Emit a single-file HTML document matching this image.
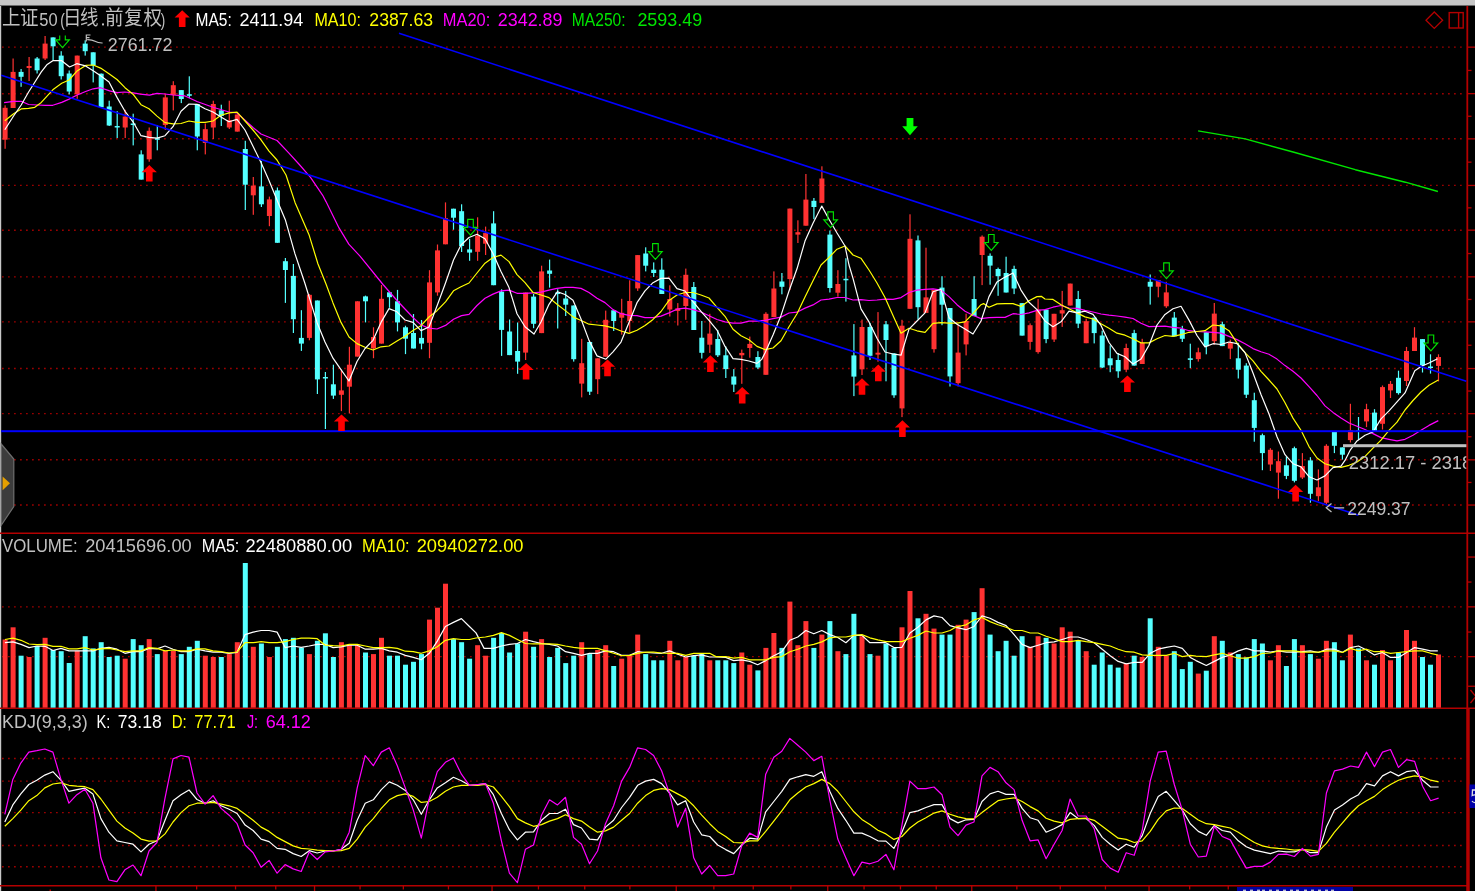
<!DOCTYPE html>
<html><head><meta charset="utf-8"><title>chart</title>
<style>
html,body{margin:0;padding:0;background:#000;overflow:hidden}
svg{display:block}
text{font-family:"Liberation Sans",sans-serif;font-size:17.8px;white-space:pre}
</style></head><body>
<svg width="1475" height="891" viewBox="0 0 1475 891">
<rect x="0" y="0" width="1475" height="891" fill="#000"/>
<rect x="0" y="0" width="1475" height="5" fill="#c6c6c6"/>
<rect x="0" y="5" width="1475" height="1" fill="#6a6a6a"/>
<rect x="0" y="6" width="1.2" height="885" fill="#c8c8c8"/>
<line x1="2.2" y1="47.1" x2="1463" y2="47.1" stroke="#c00000" stroke-width="1.4" stroke-dasharray="1.4 4.6"/>
<line x1="2.2" y1="93.7" x2="1463" y2="93.7" stroke="#c00000" stroke-width="1.4" stroke-dasharray="1.4 4.6"/>
<line x1="2.2" y1="138.8" x2="1463" y2="138.8" stroke="#c00000" stroke-width="1.4" stroke-dasharray="1.4 4.6"/>
<line x1="2.2" y1="185.4" x2="1463" y2="185.4" stroke="#c00000" stroke-width="1.4" stroke-dasharray="1.4 4.6"/>
<line x1="2.2" y1="230.2" x2="1463" y2="230.2" stroke="#c00000" stroke-width="1.4" stroke-dasharray="1.4 4.6"/>
<line x1="2.2" y1="276.9" x2="1463" y2="276.9" stroke="#c00000" stroke-width="1.4" stroke-dasharray="1.4 4.6"/>
<line x1="2.2" y1="321.9" x2="1463" y2="321.9" stroke="#c00000" stroke-width="1.4" stroke-dasharray="1.4 4.6"/>
<line x1="2.2" y1="368.5" x2="1463" y2="368.5" stroke="#c00000" stroke-width="1.4" stroke-dasharray="1.4 4.6"/>
<line x1="2.2" y1="413.6" x2="1463" y2="413.6" stroke="#c00000" stroke-width="1.4" stroke-dasharray="1.4 4.6"/>
<line x1="2.2" y1="459.8" x2="1463" y2="459.8" stroke="#c00000" stroke-width="1.4" stroke-dasharray="1.4 4.6"/>
<line x1="2.2" y1="505" x2="1463" y2="505" stroke="#c00000" stroke-width="1.4" stroke-dasharray="1.4 4.6"/>
<line x1="2.2" y1="606.9" x2="1463" y2="606.9" stroke="#c00000" stroke-width="1.4" stroke-dasharray="1.4 4.6"/>
<line x1="2.2" y1="656.6" x2="1463" y2="656.6" stroke="#c00000" stroke-width="1.4" stroke-dasharray="1.4 4.6"/>
<line x1="2.2" y1="758.5" x2="1463" y2="758.5" stroke="#c00000" stroke-width="1.4" stroke-dasharray="1.4 4.6"/>
<line x1="2.2" y1="781.1" x2="1463" y2="781.1" stroke="#c00000" stroke-width="1.4" stroke-dasharray="1.4 4.6"/>
<line x1="2.2" y1="812.6" x2="1463" y2="812.6" stroke="#c00000" stroke-width="1.4" stroke-dasharray="1.4 4.6"/>
<line x1="2.2" y1="845.5" x2="1463" y2="845.5" stroke="#c00000" stroke-width="1.4" stroke-dasharray="1.4 4.6"/>
<line x1="2.2" y1="866.7" x2="1463" y2="866.7" stroke="#c00000" stroke-width="1.4" stroke-dasharray="1.4 4.6"/>
<rect x="1466.4" y="6" width="1.8" height="885" fill="#b40000"/>
<rect x="0" y="532.5" width="1475" height="1.5" fill="#b40000"/>
<rect x="0" y="707.5" width="1475" height="1.5" fill="#b40000"/>
<rect x="0" y="885" width="1468" height="1.5" fill="#b40000"/>
<rect x="1466.6" y="708.3" width="3.1" height="183" fill="#b40000"/>
<rect x="1468" y="46.5" width="7" height="1.3" fill="#b40000"/>
<rect x="1468" y="69.8" width="3.5" height="1.3" fill="#b40000"/>
<rect x="1468" y="93" width="7" height="1.3" fill="#b40000"/>
<rect x="1468" y="115.6" width="3.5" height="1.3" fill="#b40000"/>
<rect x="1468" y="138.2" width="7" height="1.3" fill="#b40000"/>
<rect x="1468" y="161.5" width="3.5" height="1.3" fill="#b40000"/>
<rect x="1468" y="184.8" width="7" height="1.3" fill="#b40000"/>
<rect x="1468" y="207.2" width="3.5" height="1.3" fill="#b40000"/>
<rect x="1468" y="229.5" width="7" height="1.3" fill="#b40000"/>
<rect x="1468" y="252.9" width="3.5" height="1.3" fill="#b40000"/>
<rect x="1468" y="276.2" width="7" height="1.3" fill="#b40000"/>
<rect x="1468" y="298.8" width="3.5" height="1.3" fill="#b40000"/>
<rect x="1468" y="321.2" width="7" height="1.3" fill="#b40000"/>
<rect x="1468" y="344.6" width="3.5" height="1.3" fill="#b40000"/>
<rect x="1468" y="367.9" width="7" height="1.3" fill="#b40000"/>
<rect x="1468" y="390.4" width="3.5" height="1.3" fill="#b40000"/>
<rect x="1468" y="413" width="7" height="1.3" fill="#b40000"/>
<rect x="1468" y="436.1" width="3.5" height="1.3" fill="#b40000"/>
<rect x="1468" y="459.2" width="7" height="1.3" fill="#b40000"/>
<rect x="1468" y="481.8" width="3.5" height="1.3" fill="#b40000"/>
<rect x="1468" y="504.4" width="7" height="1.3" fill="#b40000"/>
<rect x="1468" y="556.4" width="7" height="1.3" fill="#b40000"/>
<rect x="1468" y="606.2" width="7" height="1.3" fill="#b40000"/>
<rect x="1468" y="656" width="7" height="1.3" fill="#b40000"/>
<rect x="1468" y="581.4" width="3.5" height="1.3" fill="#b40000"/>
<rect x="1468" y="631.4" width="3.5" height="1.3" fill="#b40000"/>
<rect x="1468" y="685.6" width="7" height="1.3" fill="#b40000"/>
<path d="M1470.5 690 L1477 698 M1470.5 703 L1477 695" stroke="#b40000" stroke-width="1.3" fill="none"/>
<rect x="1469.5" y="784.5" width="6" height="23.5" fill="#0000a8"/>
<path d="M1475 790 L1472.5 790 L1472.2 795.5 Q1474 794.5 1475.5 795 M1472 801 Q1473 802.6 1475.5 802.6" stroke="#e0e0e0" stroke-width="1.3" fill="none"/>
<rect x="155.3" y="886" width="1.3" height="5.5" fill="#b40000"/>
<rect x="196" y="886" width="1.3" height="3.5" fill="#b40000"/>
<rect x="234.9" y="886" width="1.3" height="3.5" fill="#b40000"/>
<rect x="275.1" y="886" width="1.3" height="3.5" fill="#b40000"/>
<rect x="313.9" y="886" width="1.3" height="5.5" fill="#b40000"/>
<rect x="359.4" y="886" width="1.3" height="3.5" fill="#b40000"/>
<rect x="402.7" y="886" width="1.3" height="3.5" fill="#b40000"/>
<rect x="447.8" y="886" width="1.3" height="3.5" fill="#b40000"/>
<rect x="491.4" y="886" width="1.3" height="5.5" fill="#b40000"/>
<rect x="537.8" y="886" width="1.3" height="3.5" fill="#b40000"/>
<rect x="584.1" y="886" width="1.3" height="3.5" fill="#b40000"/>
<rect x="629.2" y="886" width="1.3" height="3.5" fill="#b40000"/>
<rect x="675.6" y="886" width="1.3" height="5.5" fill="#b40000"/>
<rect x="713.2" y="886" width="1.3" height="3.5" fill="#b40000"/>
<rect x="752.6" y="886" width="1.3" height="3.5" fill="#b40000"/>
<rect x="790.2" y="886" width="1.3" height="3.5" fill="#b40000"/>
<rect x="827.1" y="886" width="1.3" height="5.5" fill="#b40000"/>
<rect x="863.4" y="886" width="1.3" height="3.5" fill="#b40000"/>
<rect x="899.8" y="886" width="1.3" height="3.5" fill="#b40000"/>
<rect x="935.6" y="886" width="1.3" height="3.5" fill="#b40000"/>
<rect x="971.1" y="886" width="1.3" height="5.5" fill="#b40000"/>
<rect x="1016.2" y="886" width="1.3" height="3.5" fill="#b40000"/>
<rect x="1059.6" y="886" width="1.3" height="3.5" fill="#b40000"/>
<rect x="1104.8" y="886" width="1.3" height="3.5" fill="#b40000"/>
<rect x="1148.4" y="886" width="1.3" height="5.5" fill="#b40000"/>
<rect x="1189" y="886" width="1.3" height="3.5" fill="#b40000"/>
<rect x="1227.6" y="886" width="1.3" height="3.5" fill="#b40000"/>
<rect x="49.5" y="889.5" width="1.5" height="1.5" fill="#b40000"/>
<rect x="1237" y="887" width="116" height="4" fill="#0000a0"/>
<rect x="1243" y="889.6" width="3" height="1.4" fill="#b8b8d8"/>
<rect x="1250" y="889.6" width="3" height="1.4" fill="#b8b8d8"/>
<rect x="1257" y="889.6" width="3" height="1.4" fill="#b8b8d8"/>
<rect x="1262" y="889.6" width="3" height="1.4" fill="#b8b8d8"/>
<rect x="1269" y="889.6" width="3" height="1.4" fill="#b8b8d8"/>
<rect x="1276" y="889.6" width="3" height="1.4" fill="#b8b8d8"/>
<rect x="1283" y="889.6" width="3" height="1.4" fill="#b8b8d8"/>
<rect x="1290" y="889.6" width="3" height="1.4" fill="#b8b8d8"/>
<rect x="1296" y="889.6" width="3" height="1.4" fill="#b8b8d8"/>
<rect x="1304" y="889.6" width="3" height="1.4" fill="#b8b8d8"/>
<rect x="1311" y="889.6" width="3" height="1.4" fill="#b8b8d8"/>
<rect x="1318" y="889.6" width="3" height="1.4" fill="#b8b8d8"/>
<rect x="1325" y="889.6" width="3" height="1.4" fill="#b8b8d8"/>
<rect x="1331" y="889.6" width="3" height="1.4" fill="#b8b8d8"/>
<rect x="2.6" y="639.5" width="5" height="68.1" fill="#ff3232"/>
<rect x="10.6" y="627.3" width="5" height="80.3" fill="#ff3232"/>
<rect x="18.6" y="655.7" width="5" height="51.9" fill="#54ffff"/>
<rect x="26.6" y="657" width="5" height="50.6" fill="#ff3232"/>
<rect x="34.6" y="646" width="5" height="61.6" fill="#54ffff"/>
<rect x="42.6" y="637.8" width="5" height="69.8" fill="#ff3232"/>
<rect x="50.6" y="650" width="5" height="57.6" fill="#54ffff"/>
<rect x="58.7" y="651.2" width="5" height="56.4" fill="#54ffff"/>
<rect x="66.7" y="663" width="5" height="44.6" fill="#54ffff"/>
<rect x="74.7" y="650.9" width="5" height="56.7" fill="#ff3232"/>
<rect x="82.7" y="636.2" width="5" height="71.4" fill="#54ffff"/>
<rect x="90.7" y="648.4" width="5" height="59.2" fill="#54ffff"/>
<rect x="98.7" y="642.2" width="5" height="65.4" fill="#54ffff"/>
<rect x="106.7" y="657" width="5" height="50.6" fill="#54ffff"/>
<rect x="114.7" y="655.7" width="5" height="51.9" fill="#54ffff"/>
<rect x="122.7" y="658.7" width="5" height="48.9" fill="#ff3232"/>
<rect x="130.7" y="639.1" width="5" height="68.5" fill="#54ffff"/>
<rect x="138.7" y="645.2" width="5" height="62.4" fill="#54ffff"/>
<rect x="146.7" y="639.1" width="5" height="68.5" fill="#ff3232"/>
<rect x="154.8" y="654.1" width="5" height="53.5" fill="#54ffff"/>
<rect x="162.8" y="650.9" width="5" height="56.7" fill="#ff3232"/>
<rect x="170.8" y="650.9" width="5" height="56.7" fill="#ff3232"/>
<rect x="178.8" y="654.1" width="5" height="53.5" fill="#54ffff"/>
<rect x="186.8" y="646.8" width="5" height="60.8" fill="#54ffff"/>
<rect x="194.8" y="640.8" width="5" height="66.8" fill="#54ffff"/>
<rect x="202.8" y="655.7" width="5" height="51.9" fill="#ff3232"/>
<rect x="210.8" y="657" width="5" height="50.6" fill="#ff3232"/>
<rect x="218.8" y="657" width="5" height="50.6" fill="#54ffff"/>
<rect x="226.8" y="654.1" width="5" height="53.5" fill="#ff3232"/>
<rect x="234.8" y="642.2" width="5" height="65.4" fill="#ff3232"/>
<rect x="242.8" y="563" width="5" height="144.6" fill="#54ffff"/>
<rect x="250.8" y="646.8" width="5" height="60.8" fill="#ff3232"/>
<rect x="258.9" y="643.5" width="5" height="64.1" fill="#54ffff"/>
<rect x="266.9" y="657" width="5" height="50.6" fill="#ff3232"/>
<rect x="274.9" y="646.8" width="5" height="60.8" fill="#54ffff"/>
<rect x="282.9" y="639.1" width="5" height="68.5" fill="#54ffff"/>
<rect x="290.9" y="637.8" width="5" height="69.8" fill="#54ffff"/>
<rect x="298.9" y="647.6" width="5" height="60" fill="#54ffff"/>
<rect x="306.9" y="654.1" width="5" height="53.5" fill="#ff3232"/>
<rect x="314.9" y="640.8" width="5" height="66.8" fill="#54ffff"/>
<rect x="322.9" y="633.3" width="5" height="74.3" fill="#54ffff"/>
<rect x="330.9" y="657" width="5" height="50.6" fill="#54ffff"/>
<rect x="338.9" y="642.2" width="5" height="65.4" fill="#ff3232"/>
<rect x="346.9" y="645.2" width="5" height="62.4" fill="#ff3232"/>
<rect x="355" y="645.2" width="5" height="62.4" fill="#ff3232"/>
<rect x="363" y="652.5" width="5" height="55.1" fill="#54ffff"/>
<rect x="371" y="654.1" width="5" height="53.5" fill="#ff3232"/>
<rect x="379" y="637.8" width="5" height="69.8" fill="#ff3232"/>
<rect x="387" y="655.7" width="5" height="51.9" fill="#54ffff"/>
<rect x="395" y="655.7" width="5" height="51.9" fill="#54ffff"/>
<rect x="403" y="664.7" width="5" height="42.9" fill="#54ffff"/>
<rect x="411" y="661.8" width="5" height="45.8" fill="#54ffff"/>
<rect x="419" y="654.1" width="5" height="53.5" fill="#54ffff"/>
<rect x="427" y="619.6" width="5" height="88" fill="#ff3232"/>
<rect x="435" y="607.7" width="5" height="99.9" fill="#ff3232"/>
<rect x="443" y="583.7" width="5" height="123.9" fill="#ff3232"/>
<rect x="451" y="639.1" width="5" height="68.5" fill="#54ffff"/>
<rect x="459.1" y="642.2" width="5" height="65.4" fill="#54ffff"/>
<rect x="467.1" y="658.7" width="5" height="48.9" fill="#54ffff"/>
<rect x="475.1" y="645.2" width="5" height="62.4" fill="#ff3232"/>
<rect x="483.1" y="655.7" width="5" height="51.9" fill="#ff3232"/>
<rect x="491.1" y="637.8" width="5" height="69.8" fill="#54ffff"/>
<rect x="499.1" y="633" width="5" height="74.6" fill="#54ffff"/>
<rect x="507.1" y="652.5" width="5" height="55.1" fill="#54ffff"/>
<rect x="515.1" y="643.5" width="5" height="64.1" fill="#54ffff"/>
<rect x="523.1" y="631.7" width="5" height="75.9" fill="#ff3232"/>
<rect x="531.1" y="646.8" width="5" height="60.8" fill="#54ffff"/>
<rect x="539.1" y="639.1" width="5" height="68.5" fill="#ff3232"/>
<rect x="547.1" y="657" width="5" height="50.6" fill="#54ffff"/>
<rect x="555.2" y="647.9" width="5" height="59.7" fill="#54ffff"/>
<rect x="563.2" y="663.1" width="5" height="44.5" fill="#54ffff"/>
<rect x="571.2" y="655.7" width="5" height="51.9" fill="#54ffff"/>
<rect x="579.2" y="642.2" width="5" height="65.4" fill="#ff3232"/>
<rect x="587.2" y="654.1" width="5" height="53.5" fill="#54ffff"/>
<rect x="595.2" y="650" width="5" height="57.6" fill="#ff3232"/>
<rect x="603.2" y="645.2" width="5" height="62.4" fill="#ff3232"/>
<rect x="611.2" y="666" width="5" height="41.6" fill="#54ffff"/>
<rect x="619.2" y="658.7" width="5" height="48.9" fill="#ff3232"/>
<rect x="627.2" y="655.7" width="5" height="51.9" fill="#ff3232"/>
<rect x="635.2" y="634.6" width="5" height="73" fill="#ff3232"/>
<rect x="643.2" y="654.1" width="5" height="53.5" fill="#54ffff"/>
<rect x="651.2" y="660.3" width="5" height="47.3" fill="#54ffff"/>
<rect x="659.3" y="660.3" width="5" height="47.3" fill="#54ffff"/>
<rect x="667.3" y="640.8" width="5" height="66.8" fill="#ff3232"/>
<rect x="675.3" y="660.3" width="5" height="47.3" fill="#ff3232"/>
<rect x="683.3" y="657" width="5" height="50.6" fill="#ff3232"/>
<rect x="691.3" y="655.7" width="5" height="51.9" fill="#54ffff"/>
<rect x="699.3" y="654.1" width="5" height="53.5" fill="#54ffff"/>
<rect x="707.3" y="660.3" width="5" height="47.3" fill="#ff3232"/>
<rect x="715.3" y="660.3" width="5" height="47.3" fill="#54ffff"/>
<rect x="723.3" y="660.3" width="5" height="47.3" fill="#54ffff"/>
<rect x="731.3" y="663.1" width="5" height="44.5" fill="#54ffff"/>
<rect x="739.3" y="652.5" width="5" height="55.1" fill="#ff3232"/>
<rect x="747.3" y="664.7" width="5" height="42.9" fill="#ff3232"/>
<rect x="755.4" y="670.4" width="5" height="37.2" fill="#54ffff"/>
<rect x="763.4" y="647.9" width="5" height="59.7" fill="#ff3232"/>
<rect x="771.4" y="633" width="5" height="74.6" fill="#ff3232"/>
<rect x="779.4" y="647.9" width="5" height="59.7" fill="#54ffff"/>
<rect x="787.4" y="601.6" width="5" height="106" fill="#ff3232"/>
<rect x="795.4" y="645.2" width="5" height="62.4" fill="#ff3232"/>
<rect x="803.4" y="621.1" width="5" height="86.5" fill="#ff3232"/>
<rect x="811.4" y="647.9" width="5" height="59.7" fill="#54ffff"/>
<rect x="819.4" y="634.6" width="5" height="73" fill="#ff3232"/>
<rect x="827.4" y="621.1" width="5" height="86.5" fill="#54ffff"/>
<rect x="835.4" y="651.2" width="5" height="56.4" fill="#ff3232"/>
<rect x="843.4" y="654.1" width="5" height="53.5" fill="#54ffff"/>
<rect x="851.4" y="613.8" width="5" height="93.8" fill="#54ffff"/>
<rect x="859.5" y="636.2" width="5" height="71.4" fill="#ff3232"/>
<rect x="867.5" y="654.1" width="5" height="53.5" fill="#54ffff"/>
<rect x="875.5" y="655.7" width="5" height="51.9" fill="#ff3232"/>
<rect x="883.5" y="643.5" width="5" height="64.1" fill="#54ffff"/>
<rect x="891.5" y="647.9" width="5" height="59.7" fill="#54ffff"/>
<rect x="899.5" y="627.3" width="5" height="80.3" fill="#ff3232"/>
<rect x="907.5" y="591" width="5" height="116.6" fill="#ff3232"/>
<rect x="915.5" y="618.3" width="5" height="89.3" fill="#54ffff"/>
<rect x="923.5" y="613.8" width="5" height="93.8" fill="#ff3232"/>
<rect x="931.5" y="628.6" width="5" height="79" fill="#ff3232"/>
<rect x="939.5" y="634.6" width="5" height="73" fill="#54ffff"/>
<rect x="947.5" y="634.6" width="5" height="73" fill="#54ffff"/>
<rect x="955.6" y="624.8" width="5" height="82.8" fill="#ff3232"/>
<rect x="963.6" y="619.6" width="5" height="88" fill="#ff3232"/>
<rect x="971.6" y="612.1" width="5" height="95.5" fill="#54ffff"/>
<rect x="979.6" y="588.2" width="5" height="119.4" fill="#ff3232"/>
<rect x="987.6" y="634.6" width="5" height="73" fill="#54ffff"/>
<rect x="995.6" y="651.2" width="5" height="56.4" fill="#54ffff"/>
<rect x="1003.6" y="640.8" width="5" height="66.8" fill="#54ffff"/>
<rect x="1011.6" y="655.7" width="5" height="51.9" fill="#54ffff"/>
<rect x="1019.6" y="636.2" width="5" height="71.4" fill="#54ffff"/>
<rect x="1027.6" y="646.8" width="5" height="60.8" fill="#ff3232"/>
<rect x="1035.6" y="636.2" width="5" height="71.4" fill="#ff3232"/>
<rect x="1043.6" y="637.8" width="5" height="69.8" fill="#54ffff"/>
<rect x="1051.6" y="643.5" width="5" height="64.1" fill="#ff3232"/>
<rect x="1059.7" y="627.3" width="5" height="80.3" fill="#ff3232"/>
<rect x="1067.7" y="631.7" width="5" height="75.9" fill="#ff3232"/>
<rect x="1075.7" y="640.8" width="5" height="66.8" fill="#54ffff"/>
<rect x="1083.7" y="651.2" width="5" height="56.4" fill="#ff3232"/>
<rect x="1091.7" y="664.7" width="5" height="42.9" fill="#54ffff"/>
<rect x="1099.7" y="652.5" width="5" height="55.1" fill="#54ffff"/>
<rect x="1107.7" y="664.7" width="5" height="42.9" fill="#54ffff"/>
<rect x="1115.7" y="667.6" width="5" height="40" fill="#54ffff"/>
<rect x="1123.7" y="663.1" width="5" height="44.5" fill="#ff3232"/>
<rect x="1131.7" y="655.7" width="5" height="51.9" fill="#54ffff"/>
<rect x="1139.7" y="657" width="5" height="50.6" fill="#ff3232"/>
<rect x="1147.7" y="618.3" width="5" height="89.3" fill="#54ffff"/>
<rect x="1155.8" y="646.8" width="5" height="60.8" fill="#ff3232"/>
<rect x="1163.8" y="655.7" width="5" height="51.9" fill="#ff3232"/>
<rect x="1171.8" y="651.2" width="5" height="56.4" fill="#54ffff"/>
<rect x="1179.8" y="669.1" width="5" height="38.5" fill="#54ffff"/>
<rect x="1187.8" y="661.8" width="5" height="45.8" fill="#54ffff"/>
<rect x="1195.8" y="673.6" width="5" height="34" fill="#ff3232"/>
<rect x="1203.8" y="670.7" width="5" height="36.9" fill="#54ffff"/>
<rect x="1211.8" y="636.2" width="5" height="71.4" fill="#ff3232"/>
<rect x="1219.8" y="640.8" width="5" height="66.8" fill="#54ffff"/>
<rect x="1227.8" y="652.5" width="5" height="55.1" fill="#ff3232"/>
<rect x="1235.8" y="654.1" width="5" height="53.5" fill="#54ffff"/>
<rect x="1243.8" y="657.4" width="5" height="50.2" fill="#54ffff"/>
<rect x="1251.8" y="639.1" width="5" height="68.5" fill="#54ffff"/>
<rect x="1259.9" y="643.5" width="5" height="64.1" fill="#54ffff"/>
<rect x="1267.9" y="660.3" width="5" height="47.3" fill="#ff3232"/>
<rect x="1275.9" y="645.2" width="5" height="62.4" fill="#ff3232"/>
<rect x="1283.9" y="666" width="5" height="41.6" fill="#54ffff"/>
<rect x="1291.9" y="639.1" width="5" height="68.5" fill="#54ffff"/>
<rect x="1299.9" y="645.2" width="5" height="62.4" fill="#ff3232"/>
<rect x="1307.9" y="654.1" width="5" height="53.5" fill="#54ffff"/>
<rect x="1315.9" y="658.7" width="5" height="48.9" fill="#ff3232"/>
<rect x="1323.9" y="640.8" width="5" height="66.8" fill="#ff3232"/>
<rect x="1331.9" y="642.2" width="5" height="65.4" fill="#54ffff"/>
<rect x="1339.9" y="660.3" width="5" height="47.3" fill="#54ffff"/>
<rect x="1347.9" y="634.6" width="5" height="73" fill="#ff3232"/>
<rect x="1356" y="648.4" width="5" height="59.2" fill="#54ffff"/>
<rect x="1364" y="660.3" width="5" height="47.3" fill="#ff3232"/>
<rect x="1372" y="664.7" width="5" height="42.9" fill="#54ffff"/>
<rect x="1380" y="650" width="5" height="57.6" fill="#ff3232"/>
<rect x="1388" y="660.3" width="5" height="47.3" fill="#ff3232"/>
<rect x="1396" y="652.5" width="5" height="55.1" fill="#54ffff"/>
<rect x="1404" y="630" width="5" height="77.6" fill="#ff3232"/>
<rect x="1412" y="640.8" width="5" height="66.8" fill="#ff3232"/>
<rect x="1420" y="657" width="5" height="50.6" fill="#54ffff"/>
<rect x="1428" y="664.7" width="5" height="42.9" fill="#54ffff"/>
<rect x="1436" y="654.5" width="5" height="53.1" fill="#ff3232"/>
<rect x="4.5" y="105.3" width="1.2" height="43.5" fill="#ff3232"/>
<rect x="2.6" y="107.8" width="5" height="31.9" fill="#ff3232"/>
<rect x="12.5" y="58.5" width="1.2" height="49.5" fill="#ff3232"/>
<rect x="10.6" y="71.9" width="5" height="36.1" fill="#ff3232"/>
<rect x="20.5" y="69" width="1.2" height="17.8" fill="#54ffff"/>
<rect x="18.6" y="71.9" width="5" height="4.9" fill="#54ffff"/>
<rect x="28.5" y="57" width="1.2" height="24" fill="#ff3232"/>
<rect x="26.6" y="66" width="5" height="2" fill="#ff3232"/>
<rect x="36.5" y="57" width="1.2" height="16.5" fill="#54ffff"/>
<rect x="34.6" y="58.5" width="5" height="11.8" fill="#54ffff"/>
<rect x="44.5" y="36" width="1.2" height="24" fill="#ff3232"/>
<rect x="42.6" y="43.6" width="5" height="14.9" fill="#ff3232"/>
<rect x="52.5" y="37.4" width="1.2" height="22.6" fill="#54ffff"/>
<rect x="50.6" y="37.4" width="5" height="8.9" fill="#54ffff"/>
<rect x="60.6" y="51.2" width="1.2" height="28.3" fill="#54ffff"/>
<rect x="58.7" y="55.6" width="5" height="20.6" fill="#54ffff"/>
<rect x="68.6" y="70.5" width="1.2" height="23.9" fill="#54ffff"/>
<rect x="66.7" y="73.5" width="5" height="18" fill="#54ffff"/>
<rect x="76.6" y="55.6" width="1.2" height="43.2" fill="#ff3232"/>
<rect x="74.7" y="55.6" width="5" height="38.6" fill="#ff3232"/>
<rect x="84.6" y="40.3" width="1.2" height="15.3" fill="#54ffff"/>
<rect x="82.7" y="43.6" width="5" height="7.6" fill="#54ffff"/>
<rect x="92.6" y="52.3" width="1.2" height="30.1" fill="#54ffff"/>
<rect x="90.7" y="52.3" width="5" height="13.1" fill="#54ffff"/>
<rect x="100.6" y="73.5" width="1.2" height="33.8" fill="#54ffff"/>
<rect x="98.7" y="73.7" width="5" height="33.6" fill="#54ffff"/>
<rect x="108.6" y="100.7" width="1.2" height="25.3" fill="#54ffff"/>
<rect x="106.7" y="106.5" width="5" height="19" fill="#54ffff"/>
<rect x="116.6" y="111.2" width="1.2" height="26.8" fill="#54ffff"/>
<rect x="114.7" y="126" width="5" height="1.5" fill="#54ffff"/>
<rect x="124.6" y="109.8" width="1.2" height="28.2" fill="#ff3232"/>
<rect x="122.7" y="116.5" width="5" height="11" fill="#ff3232"/>
<rect x="132.6" y="113.7" width="1.2" height="31.7" fill="#54ffff"/>
<rect x="130.7" y="123.5" width="5" height="1.5" fill="#54ffff"/>
<rect x="140.6" y="150.3" width="1.2" height="29.3" fill="#54ffff"/>
<rect x="138.7" y="154.4" width="5" height="25.2" fill="#54ffff"/>
<rect x="148.6" y="127.5" width="1.2" height="34.2" fill="#ff3232"/>
<rect x="146.7" y="130.8" width="5" height="28.5" fill="#ff3232"/>
<rect x="156.7" y="125" width="1.2" height="25.3" fill="#54ffff"/>
<rect x="154.8" y="138.2" width="5" height="1.6" fill="#54ffff"/>
<rect x="164.7" y="94.2" width="1.2" height="35.8" fill="#ff3232"/>
<rect x="162.8" y="97.4" width="5" height="27.6" fill="#ff3232"/>
<rect x="172.7" y="81.2" width="1.2" height="29.2" fill="#ff3232"/>
<rect x="170.8" y="85.2" width="5" height="9.8" fill="#ff3232"/>
<rect x="180.7" y="90.1" width="1.2" height="13" fill="#54ffff"/>
<rect x="178.8" y="90.1" width="5" height="8.9" fill="#54ffff"/>
<rect x="188.7" y="76.3" width="1.2" height="21.9" fill="#54ffff"/>
<rect x="186.8" y="94.2" width="5" height="1.6" fill="#54ffff"/>
<rect x="196.7" y="104" width="1.2" height="46.3" fill="#54ffff"/>
<rect x="194.8" y="104" width="5" height="32.5" fill="#54ffff"/>
<rect x="204.7" y="123.5" width="1.2" height="30.9" fill="#ff3232"/>
<rect x="202.8" y="129.2" width="5" height="13.8" fill="#ff3232"/>
<rect x="212.7" y="100.7" width="1.2" height="38.3" fill="#ff3232"/>
<rect x="210.8" y="104" width="5" height="23.5" fill="#ff3232"/>
<rect x="220.7" y="104.7" width="1.2" height="21.3" fill="#54ffff"/>
<rect x="218.8" y="110.4" width="5" height="5.6" fill="#54ffff"/>
<rect x="228.7" y="100.7" width="1.2" height="28.3" fill="#ff3232"/>
<rect x="226.8" y="120.2" width="5" height="7.3" fill="#ff3232"/>
<rect x="236.7" y="114.5" width="1.2" height="17.1" fill="#ff3232"/>
<rect x="234.8" y="114.5" width="5" height="17.1" fill="#ff3232"/>
<rect x="244.7" y="140.8" width="1.2" height="69.2" fill="#54ffff"/>
<rect x="242.8" y="149" width="5" height="35.7" fill="#54ffff"/>
<rect x="252.7" y="177" width="1.2" height="37.8" fill="#ff3232"/>
<rect x="250.8" y="185.6" width="5" height="9.7" fill="#ff3232"/>
<rect x="260.8" y="161" width="1.2" height="46" fill="#54ffff"/>
<rect x="258.9" y="186.4" width="5" height="17.9" fill="#54ffff"/>
<rect x="268.8" y="196.6" width="1.2" height="29.6" fill="#ff3232"/>
<rect x="266.9" y="199.4" width="5" height="16.6" fill="#ff3232"/>
<rect x="276.8" y="187.5" width="1.2" height="55.3" fill="#54ffff"/>
<rect x="274.9" y="190.4" width="5" height="52.4" fill="#54ffff"/>
<rect x="284.8" y="258" width="1.2" height="44.9" fill="#54ffff"/>
<rect x="282.9" y="261.2" width="5" height="8.8" fill="#54ffff"/>
<rect x="292.8" y="264" width="1.2" height="69" fill="#54ffff"/>
<rect x="290.9" y="275.9" width="5" height="43.3" fill="#54ffff"/>
<rect x="300.8" y="310.2" width="1.2" height="40.7" fill="#54ffff"/>
<rect x="298.9" y="337.9" width="5" height="5.7" fill="#54ffff"/>
<rect x="308.8" y="294" width="1.2" height="46.3" fill="#ff3232"/>
<rect x="306.9" y="294.8" width="5" height="43.1" fill="#ff3232"/>
<rect x="316.8" y="300.5" width="1.2" height="93.5" fill="#54ffff"/>
<rect x="314.9" y="300.5" width="5" height="78.9" fill="#54ffff"/>
<rect x="324.8" y="372" width="1.2" height="57" fill="#54ffff"/>
<rect x="322.9" y="377" width="5" height="1.5" fill="#54ffff"/>
<rect x="332.8" y="364.7" width="1.2" height="34.2" fill="#54ffff"/>
<rect x="330.9" y="384.3" width="5" height="11.3" fill="#54ffff"/>
<rect x="340.8" y="369.6" width="1.2" height="41.5" fill="#ff3232"/>
<rect x="338.9" y="390.4" width="5" height="4.4" fill="#ff3232"/>
<rect x="348.8" y="346.8" width="1.2" height="66.7" fill="#ff3232"/>
<rect x="346.9" y="364.7" width="5" height="22" fill="#ff3232"/>
<rect x="356.9" y="301.3" width="1.2" height="55.3" fill="#ff3232"/>
<rect x="355" y="301.3" width="5" height="55.3" fill="#ff3232"/>
<rect x="364.9" y="295.6" width="1.2" height="26.8" fill="#54ffff"/>
<rect x="363" y="296.4" width="5" height="4.9" fill="#54ffff"/>
<rect x="372.9" y="327.3" width="1.2" height="30.9" fill="#ff3232"/>
<rect x="371" y="337" width="5" height="11.5" fill="#ff3232"/>
<rect x="380.9" y="285" width="1.2" height="58.6" fill="#ff3232"/>
<rect x="379" y="298.8" width="5" height="44.8" fill="#ff3232"/>
<rect x="388.9" y="292.3" width="1.2" height="15.5" fill="#54ffff"/>
<rect x="387" y="292.3" width="5" height="4.9" fill="#54ffff"/>
<rect x="396.9" y="289.9" width="1.2" height="41.5" fill="#54ffff"/>
<rect x="395" y="301.3" width="5" height="21.1" fill="#54ffff"/>
<rect x="404.9" y="325.7" width="1.2" height="28.4" fill="#54ffff"/>
<rect x="403" y="327.3" width="5" height="11.4" fill="#54ffff"/>
<rect x="412.9" y="314" width="1.2" height="34.5" fill="#54ffff"/>
<rect x="411" y="333" width="5" height="15.5" fill="#54ffff"/>
<rect x="420.9" y="320" width="1.2" height="29.3" fill="#54ffff"/>
<rect x="419" y="337.9" width="5" height="5.7" fill="#54ffff"/>
<rect x="428.9" y="270.2" width="1.2" height="88" fill="#ff3232"/>
<rect x="427" y="282.4" width="5" height="60.4" fill="#ff3232"/>
<rect x="436.9" y="244.5" width="1.2" height="51.2" fill="#ff3232"/>
<rect x="435" y="250.4" width="5" height="42" fill="#ff3232"/>
<rect x="444.9" y="202.4" width="1.2" height="41.9" fill="#ff3232"/>
<rect x="443" y="218.2" width="5" height="26.1" fill="#ff3232"/>
<rect x="452.9" y="208.7" width="1.2" height="21" fill="#54ffff"/>
<rect x="451" y="208.7" width="5" height="9" fill="#54ffff"/>
<rect x="461" y="204.3" width="1.2" height="47.7" fill="#54ffff"/>
<rect x="459.1" y="211.2" width="5" height="34.8" fill="#54ffff"/>
<rect x="469" y="238.8" width="1.2" height="22" fill="#54ffff"/>
<rect x="467.1" y="249.4" width="5" height="3.2" fill="#54ffff"/>
<rect x="477" y="217.3" width="1.2" height="43.5" fill="#ff3232"/>
<rect x="475.1" y="235.6" width="5" height="16.2" fill="#ff3232"/>
<rect x="485" y="226.6" width="1.2" height="28.4" fill="#ff3232"/>
<rect x="483.1" y="233.1" width="5" height="10.6" fill="#ff3232"/>
<rect x="493" y="211.2" width="1.2" height="74" fill="#54ffff"/>
<rect x="491.1" y="223.4" width="5" height="61.8" fill="#54ffff"/>
<rect x="501" y="289.3" width="1.2" height="66.6" fill="#54ffff"/>
<rect x="499.1" y="291.7" width="5" height="38.2" fill="#54ffff"/>
<rect x="509" y="319.5" width="1.2" height="35.6" fill="#54ffff"/>
<rect x="507.1" y="331.5" width="5" height="23.6" fill="#54ffff"/>
<rect x="517" y="322.5" width="1.2" height="51.3" fill="#54ffff"/>
<rect x="515.1" y="351" width="5" height="10.6" fill="#54ffff"/>
<rect x="525" y="292.5" width="1.2" height="67.5" fill="#ff3232"/>
<rect x="523.1" y="292.5" width="5" height="60.1" fill="#ff3232"/>
<rect x="533" y="294" width="1.2" height="34.2" fill="#54ffff"/>
<rect x="531.1" y="296.6" width="5" height="27.2" fill="#54ffff"/>
<rect x="541" y="265.7" width="1.2" height="67.4" fill="#ff3232"/>
<rect x="539.1" y="271.4" width="5" height="61.7" fill="#ff3232"/>
<rect x="549" y="259.6" width="1.2" height="28" fill="#54ffff"/>
<rect x="547.1" y="270.5" width="5" height="3.3" fill="#54ffff"/>
<rect x="557.1" y="289.3" width="1.2" height="39.2" fill="#54ffff"/>
<rect x="555.2" y="292.5" width="5" height="1.5" fill="#54ffff"/>
<rect x="565.1" y="290.9" width="1.2" height="25.1" fill="#54ffff"/>
<rect x="563.2" y="298.5" width="5" height="6.2" fill="#54ffff"/>
<rect x="573.1" y="305.5" width="1.2" height="56.1" fill="#54ffff"/>
<rect x="571.2" y="305.5" width="5" height="53.7" fill="#54ffff"/>
<rect x="581.1" y="338.8" width="1.2" height="58.6" fill="#ff3232"/>
<rect x="579.2" y="363.2" width="5" height="20.4" fill="#ff3232"/>
<rect x="589.1" y="342" width="1.2" height="53" fill="#54ffff"/>
<rect x="587.2" y="342" width="5" height="49.7" fill="#54ffff"/>
<rect x="597.1" y="358.3" width="1.2" height="35.8" fill="#ff3232"/>
<rect x="595.2" y="358.3" width="5" height="20.9" fill="#ff3232"/>
<rect x="605.1" y="310.6" width="1.2" height="46.1" fill="#ff3232"/>
<rect x="603.2" y="319.8" width="5" height="36.9" fill="#ff3232"/>
<rect x="613.1" y="310.3" width="1.2" height="20.7" fill="#54ffff"/>
<rect x="611.2" y="310.3" width="5" height="10.7" fill="#54ffff"/>
<rect x="621.1" y="298.8" width="1.2" height="35.9" fill="#ff3232"/>
<rect x="619.2" y="312.8" width="5" height="4.9" fill="#ff3232"/>
<rect x="629.1" y="280.3" width="1.2" height="52" fill="#ff3232"/>
<rect x="627.2" y="301" width="5" height="20" fill="#ff3232"/>
<rect x="637.1" y="255.1" width="1.2" height="35.8" fill="#ff3232"/>
<rect x="635.2" y="255.1" width="5" height="33.3" fill="#ff3232"/>
<rect x="645.1" y="247.3" width="1.2" height="24.1" fill="#54ffff"/>
<rect x="643.2" y="253.5" width="5" height="12.2" fill="#54ffff"/>
<rect x="653.1" y="262.4" width="1.2" height="14.6" fill="#54ffff"/>
<rect x="651.2" y="269.7" width="5" height="3.3" fill="#54ffff"/>
<rect x="661.2" y="258.3" width="1.2" height="35.7" fill="#54ffff"/>
<rect x="659.3" y="269.7" width="5" height="24.3" fill="#54ffff"/>
<rect x="669.2" y="285.3" width="1.2" height="31.2" fill="#ff3232"/>
<rect x="667.3" y="299" width="5" height="10.5" fill="#ff3232"/>
<rect x="677.2" y="303.1" width="1.2" height="22.4" fill="#ff3232"/>
<rect x="675.3" y="308.3" width="5" height="2.6" fill="#ff3232"/>
<rect x="685.2" y="268.6" width="1.2" height="51.2" fill="#ff3232"/>
<rect x="683.3" y="274.8" width="5" height="31.2" fill="#ff3232"/>
<rect x="693.2" y="282" width="1.2" height="48" fill="#54ffff"/>
<rect x="691.3" y="287" width="5" height="43" fill="#54ffff"/>
<rect x="701.2" y="321" width="1.2" height="37.5" fill="#54ffff"/>
<rect x="699.3" y="337.7" width="5" height="15.1" fill="#54ffff"/>
<rect x="709.2" y="313.8" width="1.2" height="39.1" fill="#ff3232"/>
<rect x="707.3" y="333.6" width="5" height="11.1" fill="#ff3232"/>
<rect x="717.2" y="330" width="1.2" height="27" fill="#54ffff"/>
<rect x="715.3" y="339" width="5" height="16.3" fill="#54ffff"/>
<rect x="725.2" y="346.4" width="1.2" height="31.6" fill="#54ffff"/>
<rect x="723.3" y="355.3" width="5" height="13.8" fill="#54ffff"/>
<rect x="733.2" y="369.1" width="1.2" height="22.9" fill="#54ffff"/>
<rect x="731.3" y="376.5" width="5" height="8.1" fill="#54ffff"/>
<rect x="741.2" y="349.6" width="1.2" height="34.2" fill="#ff3232"/>
<rect x="739.3" y="352.9" width="5" height="2.4" fill="#ff3232"/>
<rect x="749.2" y="336.6" width="1.2" height="21.1" fill="#ff3232"/>
<rect x="747.3" y="343.9" width="5" height="4.1" fill="#ff3232"/>
<rect x="757.3" y="351.2" width="1.2" height="17.9" fill="#54ffff"/>
<rect x="755.4" y="357" width="5" height="10.5" fill="#54ffff"/>
<rect x="765.3" y="312.2" width="1.2" height="62.6" fill="#ff3232"/>
<rect x="763.4" y="313.8" width="5" height="61" fill="#ff3232"/>
<rect x="773.3" y="271.4" width="1.2" height="45.7" fill="#ff3232"/>
<rect x="771.4" y="288.5" width="5" height="28.6" fill="#ff3232"/>
<rect x="781.3" y="273" width="1.2" height="21.3" fill="#54ffff"/>
<rect x="779.4" y="281.5" width="5" height="5.3" fill="#54ffff"/>
<rect x="789.3" y="208.6" width="1.2" height="81.5" fill="#ff3232"/>
<rect x="787.4" y="208.6" width="5" height="70.5" fill="#ff3232"/>
<rect x="797.3" y="220.3" width="1.2" height="22.7" fill="#ff3232"/>
<rect x="795.4" y="232.2" width="5" height="2.4" fill="#ff3232"/>
<rect x="805.3" y="174" width="1.2" height="51.7" fill="#ff3232"/>
<rect x="803.4" y="199.6" width="5" height="26.1" fill="#ff3232"/>
<rect x="813.3" y="198" width="1.2" height="21.2" fill="#54ffff"/>
<rect x="811.4" y="200.8" width="5" height="6.2" fill="#54ffff"/>
<rect x="821.3" y="166.3" width="1.2" height="36.6" fill="#ff3232"/>
<rect x="819.4" y="178.5" width="5" height="24.4" fill="#ff3232"/>
<rect x="829.3" y="230.5" width="1.2" height="62" fill="#54ffff"/>
<rect x="827.4" y="234.6" width="5" height="53.4" fill="#54ffff"/>
<rect x="837.3" y="270.2" width="1.2" height="26.5" fill="#ff3232"/>
<rect x="835.4" y="284" width="5" height="8.7" fill="#ff3232"/>
<rect x="845.3" y="258.2" width="1.2" height="43.4" fill="#54ffff"/>
<rect x="843.4" y="278.8" width="5" height="1.5" fill="#54ffff"/>
<rect x="853.3" y="324.1" width="1.2" height="72" fill="#54ffff"/>
<rect x="851.4" y="355.4" width="5" height="21.2" fill="#54ffff"/>
<rect x="861.4" y="319.6" width="1.2" height="55.4" fill="#ff3232"/>
<rect x="859.5" y="327" width="5" height="42.3" fill="#ff3232"/>
<rect x="869.4" y="322.8" width="1.2" height="37.2" fill="#54ffff"/>
<rect x="867.5" y="327" width="5" height="28.8" fill="#54ffff"/>
<rect x="877.4" y="312.1" width="1.2" height="49.6" fill="#ff3232"/>
<rect x="875.5" y="352.7" width="5" height="1.9" fill="#ff3232"/>
<rect x="885.4" y="321" width="1.2" height="60.3" fill="#54ffff"/>
<rect x="883.5" y="324.3" width="5" height="15.7" fill="#54ffff"/>
<rect x="893.4" y="353" width="1.2" height="44.8" fill="#54ffff"/>
<rect x="891.5" y="353.5" width="5" height="41.8" fill="#54ffff"/>
<rect x="901.4" y="319.8" width="1.2" height="97.3" fill="#ff3232"/>
<rect x="899.5" y="325.7" width="5" height="82.7" fill="#ff3232"/>
<rect x="909.4" y="214.3" width="1.2" height="94.5" fill="#ff3232"/>
<rect x="907.5" y="238.8" width="5" height="70" fill="#ff3232"/>
<rect x="917.4" y="235.5" width="1.2" height="83.9" fill="#54ffff"/>
<rect x="915.5" y="240.4" width="5" height="66.8" fill="#54ffff"/>
<rect x="925.4" y="247.7" width="1.2" height="65.2" fill="#ff3232"/>
<rect x="923.5" y="297.4" width="5" height="15.5" fill="#ff3232"/>
<rect x="933.4" y="290" width="1.2" height="62.6" fill="#ff3232"/>
<rect x="931.5" y="290" width="5" height="59.2" fill="#ff3232"/>
<rect x="941.4" y="276.2" width="1.2" height="49" fill="#54ffff"/>
<rect x="939.5" y="287.6" width="5" height="17.1" fill="#54ffff"/>
<rect x="949.4" y="308" width="1.2" height="78.5" fill="#54ffff"/>
<rect x="947.5" y="308" width="5" height="68.4" fill="#54ffff"/>
<rect x="957.5" y="324.4" width="1.2" height="62.1" fill="#ff3232"/>
<rect x="955.6" y="352.6" width="5" height="30.6" fill="#ff3232"/>
<rect x="965.5" y="313.7" width="1.2" height="41.7" fill="#ff3232"/>
<rect x="963.6" y="321" width="5" height="23.4" fill="#ff3232"/>
<rect x="973.5" y="276.2" width="1.2" height="39.9" fill="#54ffff"/>
<rect x="971.6" y="299" width="5" height="17.1" fill="#54ffff"/>
<rect x="981.5" y="235.4" width="1.2" height="49.7" fill="#ff3232"/>
<rect x="979.6" y="236.7" width="5" height="18.3" fill="#ff3232"/>
<rect x="989.5" y="253.4" width="1.2" height="31.3" fill="#54ffff"/>
<rect x="987.6" y="255.8" width="5" height="9.8" fill="#54ffff"/>
<rect x="997.5" y="267.6" width="1.2" height="28.2" fill="#54ffff"/>
<rect x="995.6" y="269" width="5" height="7.2" fill="#54ffff"/>
<rect x="1005.5" y="256.7" width="1.2" height="35.8" fill="#54ffff"/>
<rect x="1003.6" y="273" width="5" height="19.5" fill="#54ffff"/>
<rect x="1013.5" y="265.7" width="1.2" height="28.4" fill="#54ffff"/>
<rect x="1011.6" y="268.9" width="5" height="19.6" fill="#54ffff"/>
<rect x="1021.5" y="303.1" width="1.2" height="32.5" fill="#54ffff"/>
<rect x="1019.6" y="303.1" width="5" height="32.5" fill="#54ffff"/>
<rect x="1029.5" y="323.4" width="1.2" height="26.3" fill="#ff3232"/>
<rect x="1027.6" y="325.2" width="5" height="16.7" fill="#ff3232"/>
<rect x="1037.5" y="299" width="1.2" height="54.7" fill="#ff3232"/>
<rect x="1035.6" y="309.6" width="5" height="42.5" fill="#ff3232"/>
<rect x="1045.5" y="309.6" width="1.2" height="33.6" fill="#54ffff"/>
<rect x="1043.6" y="309.6" width="5" height="29.5" fill="#54ffff"/>
<rect x="1053.5" y="313.8" width="1.2" height="28.2" fill="#ff3232"/>
<rect x="1051.6" y="313.8" width="5" height="25.7" fill="#ff3232"/>
<rect x="1061.6" y="290.9" width="1.2" height="36" fill="#ff3232"/>
<rect x="1059.7" y="310.2" width="5" height="3.3" fill="#ff3232"/>
<rect x="1069.6" y="283.6" width="1.2" height="21.9" fill="#ff3232"/>
<rect x="1067.7" y="283.6" width="5" height="21.9" fill="#ff3232"/>
<rect x="1077.6" y="290.9" width="1.2" height="37.2" fill="#54ffff"/>
<rect x="1075.7" y="299" width="5" height="24.6" fill="#54ffff"/>
<rect x="1085.6" y="318.6" width="1.2" height="24.6" fill="#ff3232"/>
<rect x="1083.7" y="321.2" width="5" height="22" fill="#ff3232"/>
<rect x="1093.6" y="317.6" width="1.2" height="25.8" fill="#54ffff"/>
<rect x="1091.7" y="317.6" width="5" height="15.5" fill="#54ffff"/>
<rect x="1101.6" y="330.7" width="1.2" height="37.4" fill="#54ffff"/>
<rect x="1099.7" y="335.5" width="5" height="32" fill="#54ffff"/>
<rect x="1109.6" y="345.3" width="1.2" height="26.9" fill="#54ffff"/>
<rect x="1107.7" y="358.3" width="5" height="7" fill="#54ffff"/>
<rect x="1117.6" y="353" width="1.2" height="24.8" fill="#54ffff"/>
<rect x="1115.7" y="360" width="5" height="11.3" fill="#54ffff"/>
<rect x="1125.6" y="343.7" width="1.2" height="28.5" fill="#ff3232"/>
<rect x="1123.7" y="348" width="5" height="21.7" fill="#ff3232"/>
<rect x="1133.6" y="329.8" width="1.2" height="35.8" fill="#54ffff"/>
<rect x="1131.7" y="333.1" width="5" height="32.5" fill="#54ffff"/>
<rect x="1141.6" y="338.8" width="1.2" height="25.2" fill="#ff3232"/>
<rect x="1139.7" y="342.9" width="5" height="21.1" fill="#ff3232"/>
<rect x="1149.6" y="274.5" width="1.2" height="30.1" fill="#54ffff"/>
<rect x="1147.7" y="281.8" width="5" height="4.9" fill="#54ffff"/>
<rect x="1157.7" y="280.2" width="1.2" height="17.1" fill="#ff3232"/>
<rect x="1155.8" y="280.2" width="5" height="6.5" fill="#ff3232"/>
<rect x="1165.7" y="281.8" width="1.2" height="26.1" fill="#ff3232"/>
<rect x="1163.8" y="292.4" width="5" height="13.9" fill="#ff3232"/>
<rect x="1173.7" y="312" width="1.2" height="24.4" fill="#54ffff"/>
<rect x="1171.8" y="317.6" width="5" height="18.8" fill="#54ffff"/>
<rect x="1181.7" y="325.8" width="1.2" height="16.2" fill="#54ffff"/>
<rect x="1179.8" y="329" width="5" height="9.8" fill="#54ffff"/>
<rect x="1189.7" y="343.7" width="1.2" height="24.4" fill="#54ffff"/>
<rect x="1187.8" y="358.3" width="5" height="1.6" fill="#54ffff"/>
<rect x="1197.7" y="347.7" width="1.2" height="13.9" fill="#ff3232"/>
<rect x="1195.8" y="352.3" width="5" height="6.8" fill="#ff3232"/>
<rect x="1205.7" y="332.3" width="1.2" height="22" fill="#54ffff"/>
<rect x="1203.8" y="332.3" width="5" height="13.8" fill="#54ffff"/>
<rect x="1213.7" y="303" width="1.2" height="41.5" fill="#ff3232"/>
<rect x="1211.8" y="313.6" width="5" height="27.6" fill="#ff3232"/>
<rect x="1221.7" y="321.7" width="1.2" height="24.4" fill="#54ffff"/>
<rect x="1219.8" y="324.2" width="5" height="21.9" fill="#54ffff"/>
<rect x="1229.7" y="339.6" width="1.2" height="19.5" fill="#ff3232"/>
<rect x="1227.8" y="342.9" width="5" height="5.7" fill="#ff3232"/>
<rect x="1237.7" y="342.9" width="1.2" height="35.6" fill="#54ffff"/>
<rect x="1235.8" y="358.3" width="5" height="11.4" fill="#54ffff"/>
<rect x="1245.7" y="363.2" width="1.2" height="34.8" fill="#54ffff"/>
<rect x="1243.8" y="365.6" width="5" height="29.1" fill="#54ffff"/>
<rect x="1253.7" y="392.7" width="1.2" height="49" fill="#54ffff"/>
<rect x="1251.8" y="400.2" width="5" height="27.7" fill="#54ffff"/>
<rect x="1261.8" y="433.6" width="1.2" height="36.6" fill="#54ffff"/>
<rect x="1259.9" y="435.2" width="5" height="17.9" fill="#54ffff"/>
<rect x="1269.8" y="448.2" width="1.2" height="22.8" fill="#ff3232"/>
<rect x="1267.9" y="449.8" width="5" height="14.7" fill="#ff3232"/>
<rect x="1277.8" y="451.5" width="1.2" height="47.2" fill="#ff3232"/>
<rect x="1275.9" y="461.2" width="5" height="11.4" fill="#ff3232"/>
<rect x="1285.8" y="456.4" width="1.2" height="22.7" fill="#54ffff"/>
<rect x="1283.9" y="465.3" width="5" height="10.6" fill="#54ffff"/>
<rect x="1293.8" y="446.6" width="1.2" height="35.8" fill="#54ffff"/>
<rect x="1291.9" y="448.2" width="5" height="32.6" fill="#54ffff"/>
<rect x="1301.8" y="453.1" width="1.2" height="25.9" fill="#ff3232"/>
<rect x="1299.9" y="466.1" width="5" height="11.4" fill="#ff3232"/>
<rect x="1309.8" y="457.2" width="1.2" height="45.5" fill="#54ffff"/>
<rect x="1307.9" y="460.4" width="5" height="33.4" fill="#54ffff"/>
<rect x="1317.8" y="469.4" width="1.2" height="31.7" fill="#ff3232"/>
<rect x="1315.9" y="487.3" width="5" height="8.9" fill="#ff3232"/>
<rect x="1325.8" y="444.2" width="1.2" height="60.2" fill="#ff3232"/>
<rect x="1323.9" y="445.8" width="5" height="56.9" fill="#ff3232"/>
<rect x="1333.8" y="432" width="1.2" height="21.1" fill="#54ffff"/>
<rect x="1331.9" y="432" width="5" height="13.8" fill="#54ffff"/>
<rect x="1341.8" y="447.4" width="1.2" height="12.2" fill="#54ffff"/>
<rect x="1339.9" y="447.4" width="5" height="7.3" fill="#54ffff"/>
<rect x="1349.8" y="403.8" width="1.2" height="38.7" fill="#ff3232"/>
<rect x="1347.9" y="430.3" width="5" height="9.8" fill="#ff3232"/>
<rect x="1357.9" y="417" width="1.2" height="23" fill="#54ffff"/>
<rect x="1356" y="430.5" width="5" height="1.5" fill="#54ffff"/>
<rect x="1365.9" y="403.8" width="1.2" height="23.3" fill="#ff3232"/>
<rect x="1364" y="409.2" width="5" height="12.2" fill="#ff3232"/>
<rect x="1373.9" y="409.2" width="1.2" height="21.9" fill="#54ffff"/>
<rect x="1372" y="412.6" width="5" height="18.5" fill="#54ffff"/>
<rect x="1381.9" y="385.5" width="1.2" height="44" fill="#ff3232"/>
<rect x="1380" y="387.1" width="5" height="36.7" fill="#ff3232"/>
<rect x="1389.9" y="381" width="1.2" height="17" fill="#ff3232"/>
<rect x="1388" y="383.9" width="5" height="6.5" fill="#ff3232"/>
<rect x="1397.9" y="370.7" width="1.2" height="23.9" fill="#54ffff"/>
<rect x="1396" y="377.8" width="5" height="15.3" fill="#54ffff"/>
<rect x="1405.9" y="346.9" width="1.2" height="39.1" fill="#ff3232"/>
<rect x="1404" y="351" width="5" height="30" fill="#ff3232"/>
<rect x="1413.9" y="327.2" width="1.2" height="23.8" fill="#ff3232"/>
<rect x="1412" y="337.6" width="5" height="13.4" fill="#ff3232"/>
<rect x="1421.9" y="339.1" width="1.2" height="33.4" fill="#54ffff"/>
<rect x="1420" y="339.1" width="5" height="26.2" fill="#54ffff"/>
<rect x="1429.9" y="354.3" width="1.2" height="19.3" fill="#54ffff"/>
<rect x="1428" y="366.5" width="5" height="1.5" fill="#54ffff"/>
<rect x="1437.9" y="354.3" width="1.2" height="27.1" fill="#ff3232"/>
<rect x="1436" y="357" width="5" height="8.9" fill="#ff3232"/>
<path d="M4.1 102.6 L13.6 101.3 L21.2 101.3 L28.6 104.5 L37.5 105 L45.2 105.3 L52.8 105.3 L61.7 102.4 L69.1 99.1 L76.7 95.3 L85.6 91.5 L93.2 88.8 L100.6 87.7 L109.6 90.9 L117 92.6 L124.6 92 L133.3 92.9 L140.4 94.2 L149.5 95.2 L157 93.4 L165 94 L173 95 L184.6 95.8 L197 101.5 L213 107.2 L229 112 L237 112.9 L245 120.2 L253 127.5 L261 134 L269 137.3 L277 140.5 L288.7 152.8 L299.3 164.5 L310.5 177.3 L322.7 195.3 L326 201.6 L339 227.9 L348.8 244.1 L360.2 256.3 L383 284.5 L397 300.5 L413 317.5 L421 324.9 L429 328.2 L437 329 L445.5 325.4 L453.5 319.3 L461.5 315.6 L469 314.4 L477 305.5 L485 298.2 L493 294.1 L501 290.9 L509 290.1 L517 293.3 L525 293.3 L533 292.8 L541 292.2 L549 290.1 L557 288.4 L565 287.3 L573 287.3 L581 288.4 L589 292.5 L597 298.2 L605 302.6 L613 309.6 L621 313.7 L629 315.3 L637 315.6 L645 317.7 L653 317.7 L661 316.1 L669 312.9 L677 309.2 L685 308.2 L693 309.6 L701 312 L709 315.8 L717 319.5 L725 321.9 L733 323.2 L741 323.2 L749 321.1 L757 321.1 L765 320.3 L773 318.7 L781 317.1 L789 313 L797 312.2 L805 308.1 L813 304.9 L821 300 L829 299.2 L837 297.5 L845 297.5 L853 300 L861 299.7 L869 300.5 L877 300 L885 299.2 L893 299.3 L901 297.6 L909 292.5 L917 290.1 L925 289.3 L933 288.9 L941 290.1 L949 296.6 L957 304.7 L965 311.2 L973 315.3 L981 318.6 L989 317.7 L997 317.4 L1005 317.4 L1013 313.7 L1021 314.5 L1029 312.9 L1037 310.4 L1045 309.6 L1053 307.2 L1061 305.5 L1069 308 L1077 308.3 L1085 310.4 L1093 312 L1101 314 L1109 315.2 L1117 316 L1125 317.1 L1133 318.5 L1141 323.3 L1149 326.6 L1157 326.3 L1165 326.1 L1173 327.4 L1181 328.2 L1189 330.7 L1197 331.5 L1205 331.8 L1213 332.3 L1221 333.1 L1229 336.4 L1237 339.6 L1245 343.7 L1253 348.6 L1261 351.8 L1269 354.3 L1277 359.1 L1285 365.6 L1293 371.3 L1301 378 L1309 386.6 L1317 395.5 L1325 405.9 L1333 412.4 L1341 418.1 L1349 423 L1357 426.3 L1365 429.5 L1373 433.6 L1381 437.6 L1389 439.3 L1397 440.9 L1405 439.3 L1413 435.2 L1421 430.3 L1429 425.4 L1438.3 420.6" stroke="#ff00ff" stroke-width="1.2" fill="none" stroke-linejoin="round"/>
<path d="M4.8 120.7 L13.6 113.8 L21.2 108.9 L28.6 108.3 L34.8 107.3 L41.3 102.4 L46.8 96.4 L52.8 89.8 L61.7 83.3 L69.1 80 L76.7 71.3 L85.6 65.4 L93.2 65 L100.6 68.1 L109 73.8 L117 79.5 L125 87.7 L133 94.2 L141 104.7 L149 108.8 L157 116.1 L165 122.6 L173 123.9 L181 123.5 L189 121 L197 122.3 L205 122.3 L213 121 L221 115.3 L229 112.9 L237 112.1 L240.7 116.1 L245 121 L253 130 L261 139.8 L269 151.1 L277 160 L286 175 L295 202.4 L308.9 234.4 L317.9 263.7 L326 284 L333 302.9 L341 322.4 L349 337 L357 343.6 L365 347.3 L373 350 L381 346.8 L389 346 L397 341.1 L405 336.3 L413 330.6 L421 325.7 L429 317 L437 310.7 L445.5 301.8 L453.5 290.8 L461 286.8 L469 283 L477 273 L485 263.2 L493 257.5 L501 255.1 L509 261.6 L517 274.6 L525 282.7 L533 292.5 L541 295 L549 297.6 L557 304.2 L565 310.4 L573 316.9 L581 320.5 L589 324.2 L597 325 L605 325.9 L613 327.8 L621 331 L629 333.4 L637 330.3 L645 325.4 L653 319.4 L661 311.5 L669 300.4 L677 295 L685 292.5 L693 292.5 L701 295 L709 298 L717 307.3 L725 316.3 L733 329.3 L741 335.8 L749 339.8 L757 346.4 L765 349.6 L773 348 L781 340.7 L789 326.8 L797 313.8 L805 297 L813 280.8 L821 265 L829 257.4 L837 249.2 L845 246 L853 255 L860.9 258.2 L869 270 L877 283 L885 297.5 L893 315.4 L901 333.2 L909 328.3 L917 330.8 L925 332.4 L933 323.4 L941 322.6 L949 323.1 L957 323.1 L965 321.8 L973 313.7 L981 304.7 L983.6 303.6 L989 307.2 L997 303.9 L1005 303.6 L1013 303.6 L1021 306.4 L1029 300.7 L1037 296.6 L1041.3 296.3 L1045 299 L1053 299.4 L1061 304.7 L1069 308.8 L1077 312.9 L1085 316.9 L1093 319 L1101 323.8 L1109 328.2 L1117 333.2 L1125 335.2 L1133 338.8 L1141 342.9 L1149 342.9 L1157 338.8 L1165 335.5 L1173 336.4 L1181 334.7 L1189 332.3 L1197 331.5 L1205 330.7 L1213 325 L1221 325.8 L1229 330.7 L1237 342.9 L1245 352.6 L1253 360.8 L1261 371.3 L1269 380 L1277 389 L1285 402.7 L1293 418.1 L1301 430.3 L1309 446.6 L1317 458 L1325 463.7 L1333 466.1 L1341 467.4 L1349 465.3 L1357 462 L1365 456.4 L1373 448.2 L1381 440.1 L1389 430.3 L1397 422.2 L1405 410 L1413 400.5 L1421 392 L1429 385.3 L1438.3 380" stroke="#ffff00" stroke-width="1.2" fill="none" stroke-linejoin="round"/>
<path d="M4.8 129.7 L13.6 116 L21.2 105 L28.6 92 L34.8 82.2 L41.3 71.9 L46.8 64.8 L52.8 60.7 L61.7 60.7 L69.6 67 L76.7 63.7 L85.6 65.9 L93.2 70.8 L100.6 75.7 L109 82 L117 97.4 L125 111.3 L133 121.8 L141 135.7 L149 137.3 L157 138.1 L165 135.7 L173 126.7 L181 111.3 L189 104 L197 104.3 L205 108.8 L213 112 L221 117 L229 121.8 L237 119.4 L245 130 L253 146.2 L261 162.5 L269 180.4 L277 200 L285.3 219.7 L295 253.9 L304.8 283 L317 322.4 L325 342 L333 358.2 L341 369.6 L349 381 L357 361.5 L365 348.5 L373 340.3 L381 322.4 L389 308.6 L397 311.8 L405 320 L413 322.4 L421 330.6 L429 327 L437 306 L445.5 283 L453.5 260 L461 245 L469 237.5 L477 234.3 L485 238.8 L493 253.5 L501 271.4 L509 287.6 L517 313.7 L525 326.7 L534 334 L541 322 L549 304.3 L557.5 291.7 L565 294.5 L573 300.2 L581 319 L589 340.4 L597 355.9 L605.9 359.2 L613 351.8 L621 342.1 L629 322.5 L637 302.7 L645 290.9 L653 282.7 L661 278.4 L669 278.1 L677 288.6 L685 291 L693 301.6 L701 311.4 L709 320.3 L717 330.1 L725 346.4 L733 358.6 L741 359.4 L749 361 L757 363.4 L761.7 359.4 L765 352.9 L773 335 L781 315.4 L789 291 L797 268.8 L805 241.1 L813 223.2 L821.8 206.1 L829 219.2 L837 233 L845 246 L849 265 L853 278.3 L861 308.9 L869 321.9 L877 338.2 L885 352 L893 354 L901 355.2 L909 329.1 L917 321 L925 312.9 L933 291.7 L941 289.3 L949 317.7 L957 324.3 L965 329.1 L973 334 L981 321 L989 296.6 L997 281.9 L1005 277.1 L1013 273 L1021 290.1 L1029 302.3 L1037 309.6 L1045 321 L1053 326.7 L1061 321.8 L1069 311.2 L1077 312.9 L1085 311.2 L1093 314.4 L1101 325.4 L1109 342.5 L1117 353.4 L1125 356.7 L1133 364 L1141 359.1 L1149 345.3 L1157 325 L1165 314.4 L1173 308.7 L1181 306.3 L1189 320.1 L1197 335.5 L1205 346.9 L1213 343.7 L1221 344.5 L1229 342 L1237 343.7 L1245 352.6 L1253 373 L1261 394.5 L1269 414 L1277 436.8 L1285 454.7 L1293 463.7 L1301 466.9 L1309 476.7 L1317 480 L1325 475.9 L1333 467.7 L1341 466.1 L1345.5 459.6 L1350.4 449.8 L1357 440.9 L1365 435.2 L1373 432 L1381 418.9 L1389 410.8 L1397 401.8 L1405 392.9 L1410.6 380.2 L1414.8 370.7 L1421 366.5 L1429 363 L1437.5 358.8" stroke="#ffffff" stroke-width="1.2" fill="none" stroke-linejoin="round"/>
<path d="M1198.1 130.9 L1245.2 138.9 L1294 152.2 L1355.3 169.7 L1405.4 182.2 L1437.9 191.5" stroke="#00e600" stroke-width="1.4" fill="none" stroke-linejoin="round"/>
<path d="M4.9 642.7 L13 641.9 L21 644.4 L29 647.6 L37 646 L45 646.3 L53 650.5 L61 648.4 L69 650.9 L77 650.9 L85 650.9 L93 650.9 L101 648.4 L109 647.3 L117 649.2 L125 653.3 L133 651.7 L141 651.7 L149 648.4 L157 648.9 L165 646 L173 649.2 L181 651.7 L189 651.7 L197 649.2 L205 650.9 L213 652.2 L221 652.2 L229 653.3 L237 652.5 L245.1 634.6 L253.1 632.1 L261.1 630.5 L269.1 630.5 L277.1 632.1 L285.2 647.6 L293.2 646 L301.2 647.3 L309.2 646 L317.2 644.4 L325.2 644.4 L333.2 647.6 L341.2 646.8 L349.2 645.2 L357.2 645.2 L365.3 649.2 L373.3 649.2 L381.3 648.4 L389.3 650.9 L397.3 652.2 L405.3 655.4 L413.3 657.4 L421.3 659.8 L429.3 653.3 L437.3 641.1 L445.4 626.5 L453.4 622.4 L461.4 618.6 L469.4 626.5 L476 632.9 L484.1 648.4 L493.4 648.4 L501.4 646 L509.4 644.4 L517.4 643.5 L525.5 639.5 L533.5 641.6 L541.5 643.5 L549.5 644.4 L557.5 646 L565.5 651.7 L573.5 653.3 L581.5 655.4 L589.5 653.3 L597.5 653.3 L605.6 650.9 L613.6 651.7 L621.6 655.4 L629.6 655.4 L637.6 651.7 L645.6 652.5 L653.6 653 L661.6 653.3 L669.6 650.9 L677.6 654.1 L685.7 657 L693.7 655.7 L701.7 654.9 L709.7 657 L716 657 L725.7 657.4 L733.7 660.6 L741.7 659.8 L749.7 661.4 L757.7 664.7 L765.8 660.6 L773.8 655.7 L781.8 651.7 L789.8 640.3 L797.8 637 L805.8 630.5 L813.8 633.8 L821.8 630.5 L829.8 634.6 L837.8 637.5 L845.9 642.7 L853.9 635.4 L861.9 635.4 L869.9 642.7 L877.9 642.7 L885.9 642.7 L893.9 647.6 L901.9 647.3 L909.9 633 L917.9 627.3 L926 619.9 L934 615.9 L942 617.5 L950 625.6 L956 627.3 L966 629.7 L974 626.5 L982 615.9 L990 618.3 L998 622.4 L1006.1 625.6 L1014.1 634.6 L1022.1 644.4 L1030.1 647.6 L1038.1 645.2 L1046.1 642.7 L1054.1 641.9 L1062.1 639.5 L1070.1 637 L1078.1 637 L1086.2 639.5 L1094.2 642.7 L1102.2 649.2 L1110.2 655.7 L1118.2 661.4 L1126.2 663.9 L1134.2 662.3 L1142.2 662.3 L1150.2 653.3 L1158.2 649.2 L1166.3 647.3 L1174.3 646 L1182.3 648.4 L1190.3 657.4 L1196 660.6 L1206.3 665.5 L1214.3 661.4 L1222.3 657.4 L1230.3 654.9 L1238.3 650.9 L1246.4 648.4 L1254.4 650.9 L1262.4 650.9 L1270.4 652.2 L1278.4 650.9 L1286.4 652.2 L1294.4 652.2 L1302.4 651.7 L1310.4 650.9 L1318.4 652.5 L1326.5 649.2 L1334.5 649.2 L1342.5 652.2 L1350.5 647.6 L1358.5 646 L1366.5 650 L1374.5 654.9 L1382.5 652.5 L1390.5 657.4 L1398.5 657.4 L1406.6 652.5 L1414.6 647.6 L1422.6 649.2 L1430.6 650.9 L1437.8 650.9" stroke="#ffffff" stroke-width="1.2" fill="none" stroke-linejoin="round"/>
<path d="M4.9 639.5 L13 638.2 L21 640.3 L29 644 L37 644.7 L45 644.4 L53 646.3 L61 646.3 L69 648.9 L77 648.9 L85 647.6 L93 650 L101 648.9 L109 648.4 L117 650 L125 651.7 L133 650.9 L141 650.9 L149 647.6 L157 648.4 L165 650.9 L173 650 L181 650.9 L189 650.9 L197 648.9 L205 648.9 L213 650.9 L221 651.7 L229 653 L237 652 L245.1 642.7 L253.1 642.7 L261.1 641.6 L269.1 642.7 L277.1 642.7 L285.2 641.6 L293.2 639.5 L301.2 638.2 L309.2 638.2 L317.2 638.7 L325.2 645.2 L333.2 645.7 L341.2 646 L349.2 644.4 L357.2 644.4 L365.3 646 L373.3 647.6 L381.3 647.6 L389.3 647.3 L397.3 648.4 L405.3 651.2 L413.3 651.7 L421.3 653.3 L429.3 650.9 L437.3 646.8 L445.4 640.3 L453.4 638.7 L461.4 639.5 L469.4 639.5 L476 638 L485.4 637 L493.4 635.4 L501.4 632.6 L509.4 635.4 L517.4 639.5 L525.5 643.5 L533.5 643.9 L541.5 643.9 L549.5 643.9 L557.5 644.4 L565.5 646 L573.5 647.3 L581.5 648.4 L589.5 648.4 L597.5 648.4 L605.6 650.9 L613.6 653.3 L621.6 655.7 L629.6 655.4 L637.6 653.3 L645.6 652.2 L653.6 652.2 L661.6 653 L669.6 653.3 L677.6 653.3 L685.7 655.4 L693.7 653.3 L701.7 653.3 L709.7 653.3 L716 656.6 L725.7 656.6 L733.7 658.2 L741.7 657.4 L749.7 659.8 L757.7 659.8 L765.8 659.8 L773.8 657.4 L781.8 656.6 L789.8 651.7 L797.8 649.2 L805.8 646 L813.8 644.4 L821.8 641.9 L829.8 637.8 L837.8 637 L845.9 637 L853.9 635.4 L861.9 634.6 L869.9 637.8 L877.9 639.8 L885.9 641.6 L893.9 641.6 L901.9 641.6 L909.9 638.2 L917.9 635.4 L926 631 L934 633 L942 633 L950 630.5 L956 627 L966 624.8 L974 619.9 L982 617.5 L990 621.6 L998 624.8 L1006.1 627.3 L1014.1 630.5 L1022.1 630.5 L1030.1 633 L1038.1 633 L1046.1 636.2 L1054.1 638.7 L1062.1 641.6 L1070.1 641.6 L1078.1 640.3 L1086.2 641.6 L1094.2 642.7 L1102.2 644.4 L1110.2 646 L1118.2 649.2 L1126.2 651.7 L1134.2 652.2 L1142.2 654.9 L1150.2 655.4 L1158.2 655.4 L1166.3 655.4 L1174.3 653.3 L1182.3 656.6 L1190.3 655.4 L1196 656.2 L1206.3 656.6 L1214.3 654.9 L1222.3 653.3 L1230.3 655.7 L1238.3 658.2 L1246.4 658.2 L1254.4 656.6 L1262.4 653.3 L1270.4 653 L1278.4 650.9 L1286.4 650.9 L1294.4 650.9 L1302.4 652.2 L1310.4 652.2 L1318.4 652.2 L1326.5 650.9 L1334.5 650.9 L1342.5 652.5 L1350.5 648.4 L1358.5 650.9 L1366.5 649.2 L1374.5 651.7 L1382.5 651.7 L1390.5 653.3 L1398.5 652.5 L1406.6 651.7 L1414.6 650.9 L1422.6 650.9 L1430.6 653.3 L1437.8 655" stroke="#ffff00" stroke-width="1.2" fill="none" stroke-linejoin="round"/>
<path d="M4.8 822 L12.8 804.9 L20.8 793.9 L28.8 784.5 L36.8 780.2 L44.8 775.1 L52.9 771.7 L60.9 780.2 L68.9 791.3 L76.9 789.6 L84.9 788.2 L92.9 793.9 L100.9 818.6 L108.9 832.2 L116.9 840.8 L124.9 842.5 L133 844.2 L141 851.9 L149 844.2 L157 840.8 L165 820.3 L173 800.7 L181 794.7 L189 789.9 L197 799.5 L205.1 803.2 L213.1 800.7 L221.1 805.8 L229.1 809.2 L237.1 813.5 L245.1 825.1 L253.1 830.5 L261.1 839.1 L269.1 841.6 L277.1 848.4 L285.1 849.3 L293.2 853.6 L301.2 856.5 L309.2 850.7 L317.2 853 L325.2 851 L333.2 851 L341.2 849.3 L349.2 843.3 L357.2 820.3 L365.2 803.2 L373.3 799.8 L381.3 789.6 L389.3 781.9 L397.3 785.3 L405.3 790.4 L413.3 799.8 L421.3 814.3 L429.3 799.8 L437.3 787.9 L445.4 782.8 L453.4 777.3 L461.4 780.7 L469.4 785.3 L477.4 784.8 L485.4 783.6 L493.4 794.7 L501.4 813.5 L509.4 829.7 L517.4 839.9 L525.4 832.2 L533.5 831.9 L541.5 820.3 L549.5 813.5 L557.5 813.5 L565.5 809.2 L573.5 824.6 L581.5 828 L589.5 839.1 L597.5 839.9 L605.5 827.1 L613.6 820.3 L621.6 807.5 L629.6 797.3 L637.6 785.3 L645.6 781.1 L653.6 779.4 L661.6 783.6 L669.6 793 L677.6 804.9 L685.6 800.7 L693.7 822 L701.7 834.8 L709.7 836.5 L717.7 845 L725.7 849.6 L733.7 853.6 L741.7 845 L749.7 838.2 L757.7 839.1 L765.7 811.8 L773.8 801.5 L781.8 791.3 L789.8 779.4 L797.8 776.8 L805.8 774.6 L813.8 776.3 L821.8 771.7 L829.8 791.3 L837.8 808.4 L845.8 820.3 L853.9 833.1 L861.9 833.1 L869.9 836.5 L877.9 840.8 L885.9 841.1 L893.9 848.4 L901.9 832.2 L909.9 812.6 L917.9 810.9 L925.9 807.5 L934 804.6 L942 804.6 L950 818.6 L958 822.9 L966 819.8 L974 819.4 L982 801.5 L990 793.9 L998 791.3 L1006 794.4 L1014.1 794.4 L1022.1 808.4 L1030.1 817.7 L1038.1 820.3 L1046.1 832.2 L1054.1 828.8 L1062.1 824.6 L1070.1 812.6 L1078.1 818.6 L1086.1 818.6 L1094.2 825.4 L1102.2 837.4 L1110.2 844.2 L1118.2 850.1 L1126.2 844.2 L1134.2 847.2 L1142.2 835.6 L1150.2 813.5 L1158.2 796.4 L1166.2 791.3 L1174.3 800.7 L1182.3 810.1 L1190.3 823.7 L1198.3 831.4 L1206.3 835.3 L1214.3 825.4 L1222.3 830.5 L1230.3 832.2 L1238.3 840.8 L1246.3 846.7 L1254.4 850.1 L1262.4 851.9 L1270.4 853.6 L1278.4 851 L1286.4 851.9 L1294.4 851.9 L1302.4 849.3 L1310.4 852.7 L1318.4 852.7 L1326.4 827.1 L1334.5 810.1 L1342.5 804.9 L1350.5 799 L1358.5 794.7 L1366.5 783.6 L1374.5 785.8 L1382.5 775.9 L1390.5 771.7 L1398.5 775.9 L1406.5 771.7 L1414.6 770.5 L1422.6 780.2 L1430.6 787 L1438.6 787" stroke="#ffffff" stroke-width="1.2" fill="none" stroke-linejoin="round"/>
<path d="M4.8 826.3 L12.8 818.6 L20.8 810.1 L28.8 800.7 L36.8 795.6 L44.8 787.9 L52.9 784 L60.9 782.8 L68.9 785.3 L76.9 786.2 L84.9 786.7 L92.9 789.6 L100.9 799 L108.9 810.1 L116.9 821.1 L124.9 828 L133 833.1 L141 839.1 L149 841.1 L157 840.8 L165 833.9 L173 822 L181 812.6 L189 805.8 L197 803.2 L205.1 803.2 L213.1 802.4 L221.1 804.1 L229.1 805.8 L237.1 808.4 L245.1 814.3 L253.1 820.3 L261.1 827.1 L269.1 831.4 L277.1 837.4 L285.1 841.6 L293.2 845.9 L301.2 848.4 L309.2 849 L317.2 850.1 L325.2 850.7 L333.2 851 L341.2 850.7 L349.2 848.4 L357.2 839.1 L365.2 827.1 L373.3 818.6 L381.3 808.4 L389.3 799.8 L397.3 795.6 L405.3 793.9 L413.3 796.4 L421.3 802.4 L429.3 801.5 L437.3 797.3 L445.4 791.3 L453.4 787 L461.4 785.3 L469.4 785.3 L477.4 785.3 L485.4 784.5 L493.4 787 L501.4 796.4 L509.4 806.6 L517.4 818.6 L525.4 822.9 L533.5 826.3 L541.5 824.6 L549.5 821.1 L557.5 818.6 L565.5 814.8 L573.5 818.6 L581.5 821.1 L589.5 827.1 L597.5 832.2 L605.5 830.9 L613.6 827.1 L621.6 820.3 L629.6 813.5 L637.6 803.2 L645.6 795.6 L653.6 790.4 L661.6 788.7 L669.6 789.6 L677.6 793.9 L685.6 798.1 L693.7 805.8 L701.7 815.2 L709.7 823.7 L717.7 831.4 L725.7 836.5 L733.7 842.5 L741.7 842.8 L749.7 840.8 L757.7 840.8 L765.7 831.4 L773.8 821.1 L781.8 810.9 L789.8 799.8 L797.8 793 L805.8 787 L813.8 783.6 L821.8 779.4 L829.8 783.6 L837.8 791.3 L845.8 801.5 L853.9 811.8 L861.9 819.4 L869.9 824.6 L877.9 830.2 L885.9 833.9 L893.9 839.4 L901.9 836.5 L909.9 828 L917.9 822 L925.9 817.7 L934 813.1 L942 810.9 L950 814.3 L958 816.9 L966 818.6 L974 818.9 L982 812.6 L990 806.6 L998 800.7 L1006 799 L1014.1 797.8 L1022.1 801.5 L1030.1 806.6 L1038.1 810.9 L1046.1 818.2 L1054.1 821.1 L1062.1 822.9 L1070.1 819.4 L1078.1 818.6 L1086.1 818.2 L1094.2 820.3 L1102.2 826.3 L1110.2 832.2 L1118.2 838.2 L1126.2 839.4 L1134.2 842.5 L1142.2 840.8 L1150.2 831.4 L1158.2 819.4 L1166.2 810.9 L1174.3 808 L1182.3 808.4 L1190.3 814.3 L1198.3 820 L1206.3 823.7 L1214.3 824.6 L1222.3 826.3 L1230.3 828 L1238.3 832.2 L1246.3 837.4 L1254.4 842.5 L1262.4 845.9 L1270.4 847.6 L1278.4 848.4 L1286.4 849 L1294.4 850.1 L1302.4 849.6 L1310.4 850.1 L1318.4 851.3 L1326.4 843.3 L1334.5 832.2 L1342.5 822.9 L1350.5 813.5 L1358.5 805.8 L1366.5 800.7 L1374.5 796.4 L1382.5 789.6 L1390.5 784.5 L1398.5 780.2 L1406.5 777.6 L1414.6 775.9 L1422.6 776.8 L1430.6 780.2 L1438.6 781.9" stroke="#ffff00" stroke-width="1.2" fill="none" stroke-linejoin="round"/>
<path d="M4.8 814.3 L12.8 779.4 L20.8 763.1 L28.8 752.1 L36.8 750.7 L44.8 749 L52.9 752.1 L60.9 779.4 L68.9 803.2 L76.9 794.7 L84.9 789.2 L92.9 803.2 L100.9 857.8 L108.9 880 L116.9 881.7 L124.9 869.8 L133 865 L141 875.7 L149 851 L157 842.5 L165 798.1 L173 758.9 L181 755.5 L189 757.2 L197 793 L205.1 804.1 L213.1 795.6 L221.1 808.4 L229.1 815.2 L237.1 823.7 L245.1 845 L253.1 852.7 L261.1 867.2 L269.1 860.4 L277.1 873.2 L285.1 864.6 L293.2 868.9 L301.2 871.5 L309.2 851.9 L317.2 859.5 L325.2 851.9 L333.2 851 L341.2 849.3 L349.2 832.2 L357.2 787.9 L365.2 755.5 L373.3 765.7 L381.3 752.1 L389.3 747.8 L397.3 765.7 L405.3 787.9 L413.3 810.1 L421.3 838.2 L429.3 798.1 L437.3 771.7 L445.4 762.3 L453.4 758 L461.4 774.2 L469.4 785.3 L477.4 784.5 L485.4 783.6 L493.4 803.2 L501.4 840.8 L509.4 873.2 L517.4 882.6 L525.4 849.3 L533.5 845 L541.5 815.2 L549.5 799.8 L557.5 804.9 L565.5 797.3 L573.5 837.4 L581.5 844.2 L589.5 863.8 L597.5 851 L605.5 823.7 L613.6 805.8 L621.6 781.1 L629.6 767.4 L637.6 747.8 L645.6 749.5 L653.6 755.5 L661.6 770.8 L669.6 793.9 L677.6 827.1 L685.6 808.4 L693.7 857.8 L701.7 874 L709.7 865.5 L717.7 875.7 L725.7 875.7 L733.7 874 L741.7 845.9 L749.7 833.1 L757.7 837.4 L765.7 774.2 L773.8 757.2 L781.8 751.2 L789.8 738.4 L797.8 745.2 L805.8 752.1 L813.8 760.6 L821.8 756.3 L829.8 799.8 L837.8 839.1 L845.8 857.8 L853.9 875.7 L861.9 862.1 L869.9 863.8 L877.9 861.2 L885.9 854.4 L893.9 869.8 L901.9 825.4 L909.9 781.1 L917.9 788.7 L925.9 788.7 L934 787 L942 794.7 L950 827.1 L958 835.6 L966 825.1 L974 822 L982 775.9 L990 767.4 L998 771.7 L1006 782.8 L1014.1 789.6 L1022.1 820.3 L1030.1 840.8 L1038.1 839.9 L1046.1 858.7 L1054.1 844.2 L1062.1 830.5 L1070.1 799 L1078.1 816 L1086.1 816 L1094.2 828.8 L1102.2 859.5 L1110.2 868.1 L1118.2 872.3 L1126.2 852.7 L1134.2 855.3 L1142.2 830.5 L1150.2 781.1 L1158.2 752.1 L1166.2 751.2 L1174.3 784.5 L1182.3 810.1 L1190.3 844.2 L1198.3 857 L1206.3 856.1 L1214.3 826.3 L1222.3 836.5 L1230.3 839.9 L1238.3 854.4 L1246.3 868.1 L1254.4 866.4 L1262.4 866.4 L1270.4 862.1 L1278.4 854.4 L1286.4 854.1 L1294.4 856.5 L1302.4 848.4 L1310.4 856.1 L1318.4 854.4 L1326.4 793 L1334.5 770.8 L1342.5 769.1 L1350.5 766 L1358.5 767.4 L1366.5 752.1 L1374.5 766.6 L1382.5 752.1 L1390.5 749.5 L1398.5 767.4 L1406.5 759.7 L1414.6 761.4 L1422.6 786.2 L1430.6 800.7 L1438.6 798.1" stroke="#ff00ff" stroke-width="1.2" fill="none" stroke-linejoin="round"/>
<line x1="1.2" y1="75.2" x2="1358.5" y2="515.2" stroke="#0000ff" stroke-width="1.6"/>
<line x1="399" y1="33.3" x2="1466.3" y2="381.3" stroke="#0000ff" stroke-width="1.6"/>
<rect x="1.2" y="430.2" width="1465.2" height="2" fill="#0000ff"/>
<rect x="1343" y="444.2" width="123.4" height="3" fill="#c0c0c0"/>
<polygon points="149.3,165 156.9,172.2 152.6,172.2 152.6,181.6 146,181.6 146,172.2 141.7,172.2" fill="#ff0000"/>
<polygon points="341.5,414.4 349.1,421.6 344.8,421.6 344.8,431 338.2,431 338.2,421.6 333.9,421.6" fill="#ff0000"/>
<polygon points="526.1,362.9 533.7,370.1 529.4,370.1 529.4,379.5 522.8,379.5 522.8,370.1 518.5,370.1" fill="#ff0000"/>
<polygon points="607.5,359.6 615.1,366.8 610.8,366.8 610.8,376.2 604.2,376.2 604.2,366.8 599.9,366.8" fill="#ff0000"/>
<polygon points="710.4,355.3 718,362.5 713.7,362.5 713.7,371.9 707.1,371.9 707.1,362.5 702.8,362.5" fill="#ff0000"/>
<polygon points="742.2,387 749.8,394.2 745.5,394.2 745.5,403.6 738.9,403.6 738.9,394.2 734.6,394.2" fill="#ff0000"/>
<polygon points="862,378.2 869.6,385.4 865.3,385.4 865.3,394.8 858.7,394.8 858.7,385.4 854.4,385.4" fill="#ff0000"/>
<polygon points="878.3,364.6 885.9,371.8 881.6,371.8 881.6,381.2 875,381.2 875,371.8 870.7,371.8" fill="#ff0000"/>
<polygon points="902.4,420.3 910,427.5 905.7,427.5 905.7,436.9 899.1,436.9 899.1,427.5 894.8,427.5" fill="#ff0000"/>
<polygon points="1127.4,375.4 1135,382.6 1130.7,382.6 1130.7,392 1124.1,392 1124.1,382.6 1119.8,382.6" fill="#ff0000"/>
<polygon points="1295.6,484.8 1303.2,492 1298.9,492 1298.9,501.4 1292.3,501.4 1292.3,492 1288,492" fill="#ff0000"/>
<polygon points="182.2,10.3 189.8,17.5 185.5,17.5 185.5,26.9 178.9,26.9 178.9,17.5 174.6,17.5" fill="#ff0000"/>
<clipPath id="ca"><rect x="0" y="35.6" width="200" height="40"/></clipPath>
<polygon points="59.7,31.8 65.3,31.8 65.3,39.8 69.3,39.8 62.5,47.6 55.7,39.8 59.7,39.8" fill="none" stroke="#00e000" stroke-width="1.15" clip-path="url(#ca)"/>
<polygon points="467.7,219.4 473.3,219.4 473.3,227.4 477.3,227.4 470.5,235.2 463.7,227.4 467.7,227.4" fill="none" stroke="#00e000" stroke-width="1.15"/>
<polygon points="652.6,243.6 658.2,243.6 658.2,251.6 662.2,251.6 655.4,259.4 648.6,251.6 652.6,251.6" fill="none" stroke="#00e000" stroke-width="1.15"/>
<polygon points="827.8,211.8 833.4,211.8 833.4,219.8 837.4,219.8 830.6,227.6 823.8,219.8 827.8,219.8" fill="none" stroke="#00e000" stroke-width="1.15"/>
<polygon points="988.5,234.5 994.1,234.5 994.1,242.5 998.1,242.5 991.3,250.3 984.5,242.5 988.5,242.5" fill="none" stroke="#00e000" stroke-width="1.15"/>
<polygon points="1163.7,262.9 1169.3,262.9 1169.3,270.9 1173.3,270.9 1166.5,278.7 1159.7,270.9 1163.7,270.9" fill="none" stroke="#00e000" stroke-width="1.15"/>
<polygon points="1428.1,335 1433.7,335 1433.7,343 1437.7,343 1430.9,350.8 1424.1,343 1428.1,343" fill="none" stroke="#00e000" stroke-width="1.15"/>
<polygon points="906.6,118 913.4,118 913.4,126.3 917.8,126.3 910,135.2 902.2,126.3 906.6,126.3" fill="#00ff00"/>
<path d="M86.3 41.5 L86.3 35 L90.5 35 M86.3 37.6 L89.5 37.6 M87.2 39.6 Q92 39.5 95 41.3 T102.6 43" stroke="#c0c0c0" stroke-width="1.2" fill="none"/>
<path d="M1331.5 503.6 L1326.3 507.8 L1331.5 512 M1334 507.8 L1344.2 507.8" stroke="#c0c0c0" stroke-width="1.3" fill="none"/>
<polygon points="1.2,444 13.8,459 13.8,506.5 1.2,525.3" fill="#3c3c3c" stroke="#6e6e6e" stroke-width="1.2"/>
<polygon points="2.6,476.4 2.6,490.2 10,483.3" fill="#e6a000"/>
<polygon points="1434.3,12 1442.6,20.2 1434.3,28.4 1426,20.2" fill="none" stroke="#b40000" stroke-width="1.3"/>
<rect x="1449.2" y="12.6" width="14" height="15.4" fill="none" stroke="#b40000" stroke-width="1.4"/>
<line x1="1458.6" y1="12.6" x2="1458.6" y2="28" stroke="#b40000" stroke-width="1.4"/>
<filter id="nf" x="0" y="0" width="1475" height="891" filterUnits="userSpaceOnUse"><feOffset dx="0" dy="0"/></filter><g filter="url(#nf)">
<g><text transform="translate(39.3 25.7) scale(1 1.07)" fill="#c0c0c0" textLength="18.3" lengthAdjust="spacingAndGlyphs">50</text></g>
<g><text transform="translate(60.2 25.7) scale(1 1.07)" fill="#c0c0c0" textLength="4.6" lengthAdjust="spacingAndGlyphs">(</text></g>
<rect x="102" y="23.4" width="2" height="2" fill="#c0c0c0"/>
<g><text transform="translate(160.8 25.7) scale(1 1.07)" fill="#c0c0c0" textLength="4.5" lengthAdjust="spacingAndGlyphs">)</text></g>
<g><text transform="translate(195.6 25.7) scale(1 1.07)" fill="#ffffff" textLength="36.2" lengthAdjust="spacingAndGlyphs">MA5:</text></g>
<g><text transform="translate(239.4 25.7) scale(1 1.07)" fill="#ffffff" textLength="63.9" lengthAdjust="spacingAndGlyphs">2411.94</text></g>
<g><text transform="translate(314.5 25.7) scale(1 1.07)" fill="#ffff00" textLength="46.4" lengthAdjust="spacingAndGlyphs">MA10:</text></g>
<g><text transform="translate(369.3 25.7) scale(1 1.07)" fill="#ffff00" textLength="63.9" lengthAdjust="spacingAndGlyphs">2387.63</text></g>
<g><text transform="translate(442.7 25.7) scale(1 1.07)" fill="#ff00ff" textLength="47.6" lengthAdjust="spacingAndGlyphs">MA20:</text></g>
<g><text transform="translate(497.8 25.7) scale(1 1.07)" fill="#ff00ff" textLength="64.7" lengthAdjust="spacingAndGlyphs">2342.89</text></g>
<g><text transform="translate(571.8 25.7) scale(1 1.07)" fill="#00e600" textLength="53.8" lengthAdjust="spacingAndGlyphs">MA250:</text></g>
<g><text transform="translate(637.4 25.7) scale(1 1.07)" fill="#00e600" textLength="64.7" lengthAdjust="spacingAndGlyphs">2593.49</text></g>
<g><text transform="translate(2 552) scale(1 1.07)" fill="#c0c0c0" textLength="75.7" lengthAdjust="spacingAndGlyphs">VOLUME:</text></g>
<g><text transform="translate(85.2 552) scale(1 1.07)" fill="#c0c0c0" textLength="106.5" lengthAdjust="spacingAndGlyphs">20415696.00</text></g>
<g><text transform="translate(201.8 552) scale(1 1.07)" fill="#ffffff" textLength="37.5" lengthAdjust="spacingAndGlyphs">MA5:</text></g>
<g><text transform="translate(245.4 552) scale(1 1.07)" fill="#ffffff" textLength="106.7" lengthAdjust="spacingAndGlyphs">22480880.00</text></g>
<g><text transform="translate(362 552) scale(1 1.07)" fill="#ffff00" textLength="47.7" lengthAdjust="spacingAndGlyphs">MA10:</text></g>
<g><text transform="translate(416.7 552) scale(1 1.07)" fill="#ffff00" textLength="106.8" lengthAdjust="spacingAndGlyphs">20940272.00</text></g>
<g><text transform="translate(2 727.9) scale(1 1.07)" fill="#c0c0c0" textLength="85.7" lengthAdjust="spacingAndGlyphs">KDJ(9,3,3)</text></g>
<g><text transform="translate(96.5 727.9) scale(1 1.07)" fill="#ffffff" textLength="13.8" lengthAdjust="spacingAndGlyphs">K:</text></g>
<g><text transform="translate(117.8 727.9) scale(1 1.07)" fill="#ffffff" textLength="43.9" lengthAdjust="spacingAndGlyphs">73.18</text></g>
<g><text transform="translate(171.7 727.9) scale(1 1.07)" fill="#ffff00" textLength="15" lengthAdjust="spacingAndGlyphs">D:</text></g>
<g><text transform="translate(194.2 727.9) scale(1 1.07)" fill="#ffff00" textLength="41.4" lengthAdjust="spacingAndGlyphs">77.71</text></g>
<g><text transform="translate(246.9 727.9) scale(1 1.07)" fill="#ff00ff" textLength="11.2" lengthAdjust="spacingAndGlyphs">J:</text></g>
<g><text transform="translate(265.7 727.9) scale(1 1.07)" fill="#ff00ff" textLength="45.1" lengthAdjust="spacingAndGlyphs">64.12</text></g>
<g><text transform="translate(107.8 50.9) scale(1 1.07)" fill="#c0c0c0" textLength="64.6" lengthAdjust="spacingAndGlyphs">2761.72</text></g>
<g><text transform="translate(1347.2 514.9) scale(1 1.07)" fill="#c0c0c0" textLength="63.4" lengthAdjust="spacingAndGlyphs">2249.37</text></g>
<clipPath id="cr"><rect x="1300" y="440" width="166.3" height="40"/></clipPath>
<g clip-path="url(#cr)"><text transform="translate(1348.8 468.8) scale(1 1.07)" fill="#c0c0c0" textLength="149" lengthAdjust="spacingAndGlyphs">2312.17 - 2318.86</text></g>
</g>
<text transform="translate(2.1 25.4) scale(1 1.08)" fill="#c0c0c0" style="font-family:'Liberation Sans','Noto Sans CJK SC',sans-serif;font-size:18.5px" textLength="36.5" lengthAdjust="spacing">上证</text>
<text transform="translate(63.1 25.4) scale(1 1.08)" fill="#c0c0c0" style="font-family:'Liberation Sans','Noto Sans CJK SC',sans-serif;font-size:18.5px" textLength="35.5" lengthAdjust="spacing">日线</text>
<text transform="translate(105 25.4) scale(1 1.08)" fill="#c0c0c0" style="font-family:'Liberation Sans','Noto Sans CJK SC',sans-serif;font-size:18.5px" textLength="57.1" lengthAdjust="spacing">前复权</text>
</svg>
</body></html>
